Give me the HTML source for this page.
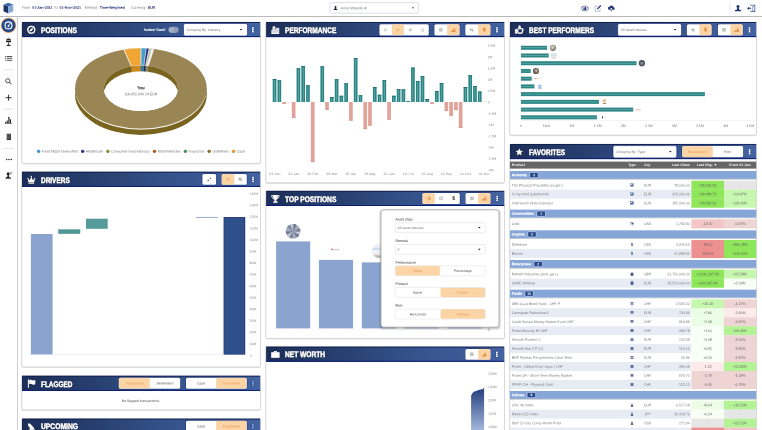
<!DOCTYPE html>
<html lang="en"><head><meta charset="utf-8"><title>Dashboard</title><style>html,body{margin:0;padding:0;background:#fff}
body{width:762px;height:430px;overflow:hidden}
svg#r{display:block;position:absolute;left:0;top:0}
svg#r text{font-family:"Liberation Sans",sans-serif;white-space:pre;text-rendering:geometricPrecision}
</style></head><body>
<svg id="r" width="762" height="430" viewBox="0 0 762 430">
<defs>
<linearGradient id="hg" x1="0" y1="0" x2="1" y2="0"><stop offset="0" stop-color="#1c2e58"/><stop offset=".3" stop-color="#273f6f"/><stop offset=".62" stop-color="#35538b"/><stop offset="1" stop-color="#4363a1"/></linearGradient>
<linearGradient id="nw" gradientUnits="userSpaceOnUse" x1="0" y1="388" x2="0" y2="432"><stop offset="0" stop-color="#233f7d"/><stop offset="1" stop-color="#a9bce0"/></linearGradient>
<linearGradient id="sh" x1="0" y1="0" x2="0" y2="1"><stop offset="0" stop-color="#000" stop-opacity=".3"/><stop offset="1" stop-color="#000" stop-opacity="0"/></linearGradient>
<radialGradient id="rg1" cx=".45" cy=".4" r=".6"><stop offset="0" stop-color="#d9d4c4"/><stop offset=".4" stop-color="#bdb8a8"/><stop offset=".7" stop-color="#8f8d86"/><stop offset="1" stop-color="#5d5b57"/></radialGradient>
<linearGradient id="lg2" x1="0" y1="0" x2="0" y2="1"><stop offset="0" stop-color="#f4f7f9"/><stop offset=".4" stop-color="#cfe0ea"/><stop offset=".7" stop-color="#e9ecee"/><stop offset="1" stop-color="#c9c9c9"/></linearGradient>
<radialGradient id="rg3" cx=".5" cy=".5" r=".55"><stop offset="0" stop-color="#9aa0a8"/><stop offset=".6" stop-color="#555a63"/><stop offset="1" stop-color="#3a3e46"/></radialGradient>
<radialGradient id="rg4" cx=".55" cy=".45" r=".55"><stop offset="0" stop-color="#c9c2b0"/><stop offset=".55" stop-color="#7d7467"/><stop offset="1" stop-color="#4f4a45"/></radialGradient>
<linearGradient id="lg5" x1="0" y1="0" x2="0" y2="1"><stop offset="0" stop-color="#f2f5f8"/><stop offset=".25" stop-color="#e6eff6"/><stop offset=".36" stop-color="#bdd7ea"/><stop offset=".46" stop-color="#f4f4f4"/><stop offset=".72" stop-color="#efefef"/><stop offset=".84" stop-color="#c4c4c4"/><stop offset="1" stop-color="#a8a8a8"/></linearGradient>
<filter id="bl" x="-5%" y="-5%" width="110%" height="115%"><feGaussianBlur stdDeviation=".7"/></filter>
<filter id="bl2" x="-10%" y="-10%" width="120%" height="120%"><feGaussianBlur stdDeviation="1.3"/></filter>
<filter id="ts" x="-5%" y="-30%" width="110%" height="160%"><feDropShadow dx="0" dy="0" stdDeviation=".5" flood-color="#000014" flood-opacity="1"/></filter>
</defs>
<rect x="0.00" y="16.10" width="762.00" height="0.80" fill="#a8a8a8" />
<rect x="17.00" y="16.50" width="0.80" height="414.00" fill="#c4c4c4" />
<svg x="3.3" y="2.8" width="10.2" height="10.8" viewBox="0 0 20 21"><path d="M10 0L20 3.500 10 7 0 3.500Z" fill="#3f68ad"/><path d="M0 3.500L10 7V21L0 16.500Z" fill="#1c3566"/><path d="M20 3.500L10 7V21L20 16.500Z" fill="#86a9dc"/></svg>
<text x="22.10" y="8.82" transform="rotate(.03 22.10 8.82)" font-size="3.6" fill="#777" textLength="8.60" lengthAdjust="spacing" >From:</text>
<text x="32.20" y="8.82" transform="rotate(.03 32.20 8.82)" font-size="3.6" fill="#1d3573" font-weight="bold" textLength="20.40" lengthAdjust="spacing" >01-Jan-2021</text>
<text x="53.80" y="8.82" transform="rotate(.03 53.80 8.82)" font-size="3.6" fill="#777" textLength="4.60" lengthAdjust="spacing" >To:</text>
<text x="59.60" y="8.82" transform="rotate(.03 59.60 8.82)" font-size="3.6" fill="#1d3573" font-weight="bold" textLength="21.30" lengthAdjust="spacing" >01-Nov-2021</text>
<text x="84.70" y="8.82" transform="rotate(.03 84.70 8.82)" font-size="3.6" fill="#777" textLength="13.20" lengthAdjust="spacing" >Method:</text>
<text x="99.70" y="8.82" transform="rotate(.03 99.70 8.82)" font-size="3.6" fill="#1d3573" font-weight="bold" textLength="25.20" lengthAdjust="spacing" >Time-Weighted</text>
<text x="130.90" y="8.82" transform="rotate(.03 130.90 8.82)" font-size="3.6" fill="#777" textLength="15.60" lengthAdjust="spacing" >Currency:</text>
<text x="148.00" y="8.82" transform="rotate(.03 148.00 8.82)" font-size="3.6" fill="#1d3573" font-weight="bold" textLength="7.20" lengthAdjust="spacing" >EUR</text>
<rect x="330.10" y="2.60" width="88.60" height="10.60" rx="1.6" fill="#fff" stroke="#c3cbe0" stroke-width="0.6"/>
<svg x="333.3" y="5.6" width="4.4" height="4.6" viewBox="0 0 24 24"><circle cx="12" cy="6.500" r="5.500" fill="#222"/><path d="M9.500 10h5l1 7c4 .5 7 2 7 4.500V24H1.500v-2.500c0-2.500 3-4 7-4.500z" fill="#222"/></svg>
<text x="340.80" y="9.19" transform="rotate(.03 340.80 9.19)" font-size="3.5" fill="#777" textLength="26.00" lengthAdjust="spacing" >Anna Maeeda ★</text>
<svg x="411.7" y="7.2" width="2.7" height="1.6" viewBox="0 0 10 6"><path d="M0 0H10L5 6Z" fill="#222"/></svg>
<svg x="580.6" y="5.4" width="8.6" height="6" viewBox="0 0 24 16"><path d="M1 8C5 2 9 1 12 1s7 1 11 7c-4 6-8 7-11 7S5 14 1 8z" fill="none" stroke="#1d3573" stroke-width="2"/><circle cx="12" cy="8" r="4.500" fill="#1d3573"/><circle cx="10.500" cy="6.500" r="1.500" fill="#fff"/></svg>
<svg x="594.2" y="4.6" width="7.4" height="7.4" viewBox="0 0 24 24"><path d="M19 13v8.500H2.500V5H11" fill="none" stroke="#7f92bd" stroke-width="2"/><path d="M9 15.500l1-4L20 1.500l3 3L13 14.500z" fill="#1d3573"/></svg>
<svg x="607.5" y="5.2" width="7.6" height="6.2" viewBox="0 0 24 20"><path d="M6 15a5 5 0 0 1 .5-10 7 7 0 0 1 13 1.500A4.300 4.300 0 0 1 18.500 15z" fill="#1d3573"/><path d="M12 8l4.500 5h-3v6h-3v-6h-3z" fill="#fff"/><path d="M10.500 14h3v6h-3z" fill="#1d3573"/></svg>
<rect x="729.60" y="3.10" width="0.70" height="9.50" fill="#ddd" />
<svg x="734.3" y="4.8" width="7.4" height="6.6" viewBox="0 0 24 22"><circle cx="12" cy="5.500" r="5" fill="#1d3573"/><path d="M9.500 9h5l1 6.500c4 .5 7.500 2 7.500 4.500V22H1v-2c0-2.500 3.500-4 7.500-4.500z" fill="#1d3573"/></svg>
<svg x="746.8" y="4.6" width="8.6" height="7.4" viewBox="0 0 26 22"><path d="M12 3V1h13v20H12v-2" fill="none" stroke="#1d3573" stroke-width="2.200"/><path d="M24 2l-6 3v16l6-2z" fill="#fff" stroke="#1d3573" stroke-width="1.500"/><path d="M1 11l6-5v3.500h6v3H7V16z" fill="#1d3573"/></svg>
<circle cx="8.50" cy="25.40" r="7.7" fill="#f0a058" />
<circle cx="8.50" cy="25.40" r="6.9" fill="#274a8c" />
<svg x="4.1" y="21" width="8.8" height="8.8" viewBox="0 0 24 24"><circle cx="12" cy="12" r="9.500" fill="none" stroke="#fff" stroke-width="3.200"/><circle cx="12" cy="13.500" r="2.600" fill="#fff"/><path d="M12 13l4-7" stroke="#fff" stroke-width="2.400"/></svg>
<svg x="5.6" y="37.3" width="6" height="9" viewBox="0 0 16 24"><path d="M7 0h2l.5 3H6.500z" fill="#999"/><path d="M3 4h10l2 9H1z" fill="#222"/><path d="M3 7h10v2H3z" fill="#fff" opacity=".7"/><path d="M7 13h2v7H7z" fill="#222"/><path d="M3.500 20h9l1 3h-11z" fill="#222"/></svg>
<svg x="4.9" y="56.1" width="7.6" height="5.2" viewBox="0 0 22 15"><path d="M0 0h3v3H0zM5 0h17v3H5zM0 6h3v3H0zM5 6h17v3H5zM0 12h3v3H0zM5 12h17v3H5z" fill="#555"/></svg>
<rect x="3.50" y="69.60" width="10.20" height="0.70" fill="#d8d8d8" />
<svg x="5" y="78.1" width="7.4" height="6.6" viewBox="0 0 24 22"><circle cx="9" cy="9" r="7" fill="none" stroke="#222" stroke-width="2.600"/><path d="M14.500 14l7.500 6.500" stroke="#222" stroke-width="3.200"/></svg>
<rect x="5.60" y="97.25" width="6.00" height="0.90" fill="#222" />
<rect x="8.15" y="94.70" width="0.90" height="6.00" fill="#222" />
<rect x="3.50" y="108.70" width="10.20" height="0.70" fill="#d8d8d8" />
<svg x="4.7" y="116.6" width="7.8" height="7.4" viewBox="0 0 24 23"><path d="M1 17h3.500v4H1zM6 12h3.500v9H6zM11 3h3.500v18H11zM16 8h3.500v13H16z" fill="#222"/><circle cx="12.700" cy="2.500" r="2" fill="#222"/><path d="M0 21.500h23V23H0z" fill="#222"/></svg>
<svg x="6.4" y="133.6" width="4.8" height="6.6" viewBox="0 0 14 20"><rect x="0" y="0" width="14" height="20" rx="2.500" fill="#333"/><path d="M3.500 3v14M7 3v14M10.500 3v14" stroke="#999" stroke-width="1.200"/><path d="M0 2.500h14" stroke="#888" stroke-width="1"/></svg>
<rect x="3.50" y="147.90" width="10.20" height="0.70" fill="#d8d8d8" />
<circle cx="6.70" cy="159.50" r="0.75" fill="#222" />
<circle cx="9.00" cy="159.50" r="0.75" fill="#222" />
<circle cx="11.30" cy="159.50" r="0.75" fill="#222" />
<svg x="5.2" y="171.2" width="7.6" height="8" viewBox="0 0 24 25"><circle cx="9.500" cy="8" r="5" fill="#222"/><path d="M7.500 12h4l.8 6c3 .4 5.700 1.500 5.700 3.500V23H1v-1.500c0-2 2.700-3.100 5.700-3.500z" fill="#222"/><path d="M13 8l6-6.500 3.500 3L16.500 11l-4 1z" fill="#bbb" stroke="#777" stroke-width="1"/><path d="M0 23.500h19V25H0z" fill="#222"/></svg>
<rect x="21.40" y="22.30" width="239.40" height="142.20" rx="2" fill="#000" opacity=".10" filter="url(#bl)"/>
<rect x="21.70" y="22.20" width="238.80" height="141.20" rx="1.6" fill="#fff" stroke="#d0d0d0" stroke-width=".8"/>
<rect x="22.00" y="22.00" width="238.20" height="15.1" fill="url(#hg)"/>
<rect x="22.00" y="22.00" width="238.20" height=".8" fill="#101c48"/>
<rect x="22.00" y="36.10" width="238.20" height="1" fill="#0a1d74"/>
<text x="41.00" y="32.72" transform="rotate(.03 41.00 32.72)" font-size="8.1" fill="#fff" font-weight="bold" textLength="35.80" lengthAdjust="spacingAndGlyphs" stroke="#fff" stroke-width=".28" filter="url(#ts)">POSITIONS</text>
<svg x="26.8" y="25.25" width="9" height="9" viewBox="0 0 24 24" filter="url(#ts)"><circle cx="12" cy="12" r="9.2" fill="none" stroke="#fff" stroke-width="3.400"/><path d="M17.500 6.500L14 14L6.500 17.500L10 10Z" fill="#fff"/></svg>
<text x="143.90" y="30.89" transform="rotate(.03 143.90 30.89)" font-size="3.5" fill="#fff" textLength="21.60" lengthAdjust="spacing" stroke="#fff" stroke-width=".12">Isolate 'Cash'</text>
<rect x="168.4" y="26.7" width="10.2" height="6.2" rx="3.1" fill="#8f9bb3"/>
<circle cx="171.50" cy="29.80" r="2.6" fill="#a3aec4" />
<rect x="183.50" y="23.50" width="64.00" height="12.50" rx="1.8" fill="#fff" stroke="#13246e" stroke-width="0.6"/>
<text x="186.60" y="30.94" transform="rotate(.03 186.60 30.94)" font-size="3.5" fill="#777" >Grouping By: Industry</text>
<path d="M239.70 29.05h2.6l-1.3 1.5z" fill="#222"/>
<rect x="251.60" y="26.60" width="2.6" height="6.4" rx=".4" fill="#24438a"/>
<rect x="252.05" y="27.10" width="1.7" height="1.6" fill="#fff"/>
<rect x="252.05" y="29.00" width="1.7" height="1.6" fill="#fff"/>
<rect x="252.05" y="30.90" width="1.7" height="1.6" fill="#fff"/>
<g><defs><clipPath id="hole"><ellipse cx="140.9" cy="88.3" rx="37.05" ry="22.8"/></clipPath></defs><ellipse cx="140.9" cy="94.7" rx="65.85" ry="40.2" fill="#78631f"/><rect x="75.05000000000001" y="88.3" width="131.7" height="6.4" fill="#78631f"/><ellipse cx="140.9" cy="89.6" rx="65.75" ry="40.2" fill="#f3efe2"/><ellipse cx="140.9" cy="88.3" rx="65.85" ry="40.2" fill="#9a8555"/><path d="M141.36 48.10A65.85 40.2 0 0 1 146.30 48.24L143.94 65.58A37.05 22.8 0 0 0 141.16 65.50Z" fill="#3f9fd0" stroke="#fff" stroke-width=".45"/><path d="M146.30 48.24A65.85 40.2 0 0 1 149.27 48.43L145.61 65.68A37.05 22.8 0 0 0 143.94 65.58Z" fill="#2a2c85" stroke="#fff" stroke-width=".45"/><path d="M149.27 48.43A65.85 40.2 0 0 1 152.00 48.67L147.14 65.83A37.05 22.8 0 0 0 145.61 65.68Z" fill="#b9c3a2" stroke="#fff" stroke-width=".45"/><path d="M152.00 48.67A65.85 40.2 0 0 1 153.01 48.79L147.72 65.89A37.05 22.8 0 0 0 147.14 65.83Z" fill="#e6e6de" stroke="#fff" stroke-width=".45"/><path d="M153.01 48.79A65.85 40.2 0 0 1 153.80 48.88L148.16 65.94A37.05 22.8 0 0 0 147.72 65.89Z" fill="#d5dccb" stroke="#fff" stroke-width=".45"/><path d="M123.86 49.47A65.85 40.2 0 0 1 140.44 48.10L140.64 65.50A37.05 22.8 0 0 0 131.31 66.28Z" fill="#f0a535" stroke="#fff" stroke-width=".45"/><path d="M153.80 48.88L148.16 65.94" stroke="#fff" stroke-width=".5"/><path d="M123.86 49.47L131.31 66.28" stroke="#fff" stroke-width=".5"/><ellipse cx="140.9" cy="88.3" rx="37.05" ry="22.8" fill="#fff"/><g clip-path="url(#hole)"><rect x="103.85000000000001" y="65.5" width="74.1" height="24.8" fill="#78631f"/><rect x="131.31" y="65.5" width="9.33" height="8.4" fill="#c98a22"/><rect x="141.16" y="65.5" width="2.78" height="8.4" fill="#2f7fae"/><rect x="143.94" y="65.5" width="1.67" height="8.4" fill="#23256e"/><rect x="145.61" y="65.5" width="2.55" height="8.4" fill="#8d8f63"/><ellipse cx="140.9" cy="94.10000000000001" rx="37.05" ry="22.8" fill="#f3efe2"/><ellipse cx="140.9" cy="94.7" rx="37.05" ry="22.8" fill="#fff"/></g></g>
<text x="137.20" y="89.19" transform="rotate(.03 137.20 89.19)" font-size="3.5" fill="#222" stroke="#222" stroke-width=".1">Total</text>
<text x="124.40" y="95.19" transform="rotate(.03 124.40 95.19)" font-size="3.5" fill="#666" textLength="33.00" lengthAdjust="spacing" >119,455,343.14 EUR</text>
<circle cx="38.60" cy="151.30" r="1.6" fill="#2f9bd6" stroke="#000" stroke-opacity=".22" stroke-width=".4"/>
<text x="41.80" y="152.49" transform="rotate(.03 41.80 152.49)" font-size="3.5" fill="#707070" textLength="35.90" lengthAdjust="spacing" >Food Major Diversified</text>
<circle cx="82.70" cy="151.30" r="1.6" fill="#2d2f8c" stroke="#000" stroke-opacity=".22" stroke-width=".4"/>
<text x="85.90" y="152.49" transform="rotate(.03 85.90 152.49)" font-size="3.5" fill="#707070" textLength="17.00" lengthAdjust="spacing" >Healthcare</text>
<circle cx="107.90" cy="151.30" r="1.6" fill="#7f9a3a" stroke="#000" stroke-opacity=".22" stroke-width=".4"/>
<text x="111.10" y="152.49" transform="rotate(.03 111.10 152.49)" font-size="3.5" fill="#707070" textLength="38.40" lengthAdjust="spacing" >Consumer Discretionary</text>
<circle cx="154.50" cy="151.30" r="1.6" fill="#b4581c" stroke="#000" stroke-opacity=".22" stroke-width=".4"/>
<text x="157.70" y="152.49" transform="rotate(.03 157.70 152.49)" font-size="3.5" fill="#707070" textLength="22.70" lengthAdjust="spacing" >MotorVehicles</text>
<circle cx="185.40" cy="151.30" r="1.6" fill="#3f9a4a" stroke="#000" stroke-opacity=".22" stroke-width=".4"/>
<text x="188.60" y="152.49" transform="rotate(.03 188.60 152.49)" font-size="3.5" fill="#707070" textLength="15.60" lengthAdjust="spacing" >Insurance</text>
<circle cx="209.20" cy="151.30" r="1.6" fill="#8a7430" stroke="#000" stroke-opacity=".22" stroke-width=".4"/>
<text x="212.40" y="152.49" transform="rotate(.03 212.40 152.49)" font-size="3.5" fill="#707070" textLength="16.10" lengthAdjust="spacing" >Undefined</text>
<circle cx="233.50" cy="151.30" r="1.6" fill="#f29a1f" stroke="#000" stroke-opacity=".22" stroke-width=".4"/>
<text x="236.70" y="152.49" transform="rotate(.03 236.70 152.49)" font-size="3.5" fill="#707070" textLength="8.10" lengthAdjust="spacing" >Cash</text>
<rect x="265.50" y="22.30" width="239.30" height="161.60" rx="2" fill="#000" opacity=".10" filter="url(#bl)"/>
<rect x="265.80" y="22.20" width="238.70" height="160.60" rx="1.6" fill="#fff" stroke="#d0d0d0" stroke-width=".8"/>
<rect x="266.10" y="22.00" width="238.10" height="15.1" fill="url(#hg)"/>
<rect x="266.10" y="22.00" width="238.10" height=".8" fill="#101c48"/>
<rect x="266.10" y="36.10" width="238.10" height="1" fill="#0a1d74"/>
<text x="285.10" y="32.72" transform="rotate(.03 285.10 32.72)" font-size="8.1" fill="#fff" font-weight="bold" textLength="51.20" lengthAdjust="spacingAndGlyphs" stroke="#fff" stroke-width=".28" filter="url(#ts)">PERFORMANCE</text>
<svg x="270.90000000000003" y="25.25" width="9" height="9" viewBox="0 0 24 24" filter="url(#ts)"><path d="M2.500 21V13h3V4h5.500v7l4 3V8h6v13z" fill="#cfd3dc" stroke="#fff" stroke-width="1.600"/><path d="M1.500 20.500h20.500v2.500H1.500z" fill="#fff"/></svg>
<rect x="379.40" y="24.20" width="49.40" height="11.30" rx="1.5" fill="#fff" stroke="#12226a" stroke-width=".7" paint-order="stroke"/>
<rect x="392.15" y="24.60" width="11.55" height="10.50" rx="1.3" fill="#fbd5a6" stroke="#f7c590" stroke-width=".35"/>
<text x="384.19" y="31.23" transform="rotate(.03 384.19 31.23)" font-size="3.9" fill="#888" >D</text>
<text x="396.11" y="31.23" transform="rotate(.03 396.11 31.23)" font-size="3.9" fill="#e89650" >W</text>
<text x="408.68" y="31.23" transform="rotate(.03 408.68 31.23)" font-size="3.9" fill="#888" >M</text>
<text x="421.13" y="31.23" transform="rotate(.03 421.13 31.23)" font-size="3.9" fill="#888" >Q</text>
<rect x="434.40" y="24.20" width="25.20" height="11.30" rx="1.5" fill="#fff" stroke="#12226a" stroke-width=".7" paint-order="stroke"/>
<rect x="447.40" y="24.60" width="11.80" height="10.50" rx="1.3" fill="#fbd5a6" stroke="#f7c590" stroke-width=".35"/>
<rect x="465.30" y="24.20" width="25.20" height="11.30" rx="1.5" fill="#fff" stroke="#12226a" stroke-width=".7" paint-order="stroke"/>
<rect x="478.30" y="24.60" width="11.80" height="10.50" rx="1.3" fill="#fbd5a6" stroke="#f7c590" stroke-width=".35"/>
<svg x="438.60" y="27.80" width="4.2" height="4.0" viewBox="0 0 24 23"><path d="M2 2h20v19H2zM2 8h20M2 14.500h20M8.700 2v19M15.300 2v19" fill="none" stroke="#8f8f8f" stroke-width="2"/></svg>
<svg x="450.80" y="27.40" width="5.0" height="4.8" viewBox="0 0 24 23"><path d="M0 23V18l6-6 4 3.500 6-15.500 5 10 3 4v9z" fill="#e89650"/></svg>
<text x="469.78" y="31.29" transform="rotate(.03 469.78 31.29)" font-size="4.1" fill="#444" >%</text>
<text x="482.75" y="31.27" transform="rotate(.03 482.75 31.27)" font-size="5.2" fill="#e5853a" font-weight="bold" stroke="#e5853a" stroke-width=".15">$</text>
<rect x="495.70" y="26.60" width="2.6" height="6.4" rx=".4" fill="#24438a"/>
<rect x="496.15" y="27.10" width="1.7" height="1.6" fill="#fff"/>
<rect x="496.15" y="29.00" width="1.7" height="1.6" fill="#fff"/>
<rect x="496.15" y="30.90" width="1.7" height="1.6" fill="#fff"/>
<rect x="272.70" y="79.00" width="3.70" height="23.00" fill="#2b8585" />
<rect x="274.25" y="79.80" width="0.60" height="22.20" fill="#6fb3b1" />
<rect x="272.70" y="79.00" width="3.70" height="0.80" fill="#1f7070" />
<rect x="277.47" y="80.30" width="3.70" height="21.70" fill="#2b8585" />
<rect x="279.02" y="81.10" width="0.60" height="20.90" fill="#6fb3b1" />
<rect x="277.47" y="80.30" width="3.70" height="0.80" fill="#1f7070" />
<rect x="282.24" y="102.00" width="3.70" height="1.70" fill="#e0a39a" />
<rect x="282.24" y="103.20" width="3.70" height="0.50" fill="#d48a80" />
<rect x="287.02" y="101.75" width="3.70" height="0.50" fill="#f0d6d2" />
<rect x="291.79" y="102.00" width="3.70" height="16.00" fill="#e0a39a" />
<rect x="291.79" y="117.50" width="3.70" height="0.50" fill="#d48a80" />
<rect x="296.56" y="68.40" width="3.70" height="33.60" fill="#2b8585" />
<rect x="298.11" y="69.20" width="0.60" height="32.80" fill="#6fb3b1" />
<rect x="296.56" y="68.40" width="3.70" height="0.80" fill="#1f7070" />
<rect x="301.33" y="66.00" width="3.70" height="36.00" fill="#2b8585" />
<rect x="302.88" y="66.80" width="0.60" height="35.20" fill="#6fb3b1" />
<rect x="301.33" y="66.00" width="3.70" height="0.80" fill="#1f7070" />
<rect x="306.10" y="85.40" width="3.70" height="16.60" fill="#2b8585" />
<rect x="307.65" y="86.20" width="0.60" height="15.80" fill="#6fb3b1" />
<rect x="306.10" y="85.40" width="3.70" height="0.80" fill="#1f7070" />
<rect x="310.88" y="102.00" width="3.70" height="60.10" fill="#e0a39a" />
<rect x="310.88" y="161.60" width="3.70" height="0.50" fill="#d48a80" />
<rect x="315.65" y="101.75" width="3.70" height="0.50" fill="#f0d6d2" />
<rect x="320.42" y="66.40" width="3.70" height="35.60" fill="#2b8585" />
<rect x="321.97" y="67.20" width="0.60" height="34.80" fill="#6fb3b1" />
<rect x="320.42" y="66.40" width="3.70" height="0.80" fill="#1f7070" />
<rect x="325.19" y="102.00" width="3.70" height="7.90" fill="#e0a39a" />
<rect x="325.19" y="109.40" width="3.70" height="0.50" fill="#d48a80" />
<rect x="329.96" y="97.10" width="3.70" height="4.90" fill="#2b8585" />
<rect x="331.51" y="97.90" width="0.60" height="4.10" fill="#6fb3b1" />
<rect x="329.96" y="97.10" width="3.70" height="0.80" fill="#1f7070" />
<rect x="334.74" y="79.30" width="3.70" height="22.70" fill="#2b8585" />
<rect x="336.29" y="80.10" width="0.60" height="21.90" fill="#6fb3b1" />
<rect x="334.74" y="79.30" width="3.70" height="0.80" fill="#1f7070" />
<rect x="339.51" y="95.80" width="3.70" height="6.20" fill="#2b8585" />
<rect x="341.06" y="96.60" width="0.60" height="5.40" fill="#6fb3b1" />
<rect x="339.51" y="95.80" width="3.70" height="0.80" fill="#1f7070" />
<rect x="344.28" y="83.40" width="3.70" height="18.60" fill="#2b8585" />
<rect x="345.83" y="84.20" width="0.60" height="17.80" fill="#6fb3b1" />
<rect x="344.28" y="83.40" width="3.70" height="0.80" fill="#1f7070" />
<rect x="349.05" y="102.00" width="3.70" height="18.50" fill="#e0a39a" />
<rect x="349.05" y="120.00" width="3.70" height="0.50" fill="#d48a80" />
<rect x="353.82" y="58.00" width="3.70" height="44.00" fill="#2b8585" />
<rect x="355.37" y="58.80" width="0.60" height="43.20" fill="#6fb3b1" />
<rect x="353.82" y="58.00" width="3.70" height="0.80" fill="#1f7070" />
<rect x="358.60" y="95.30" width="3.70" height="6.70" fill="#2b8585" />
<rect x="360.15" y="96.10" width="0.60" height="5.90" fill="#6fb3b1" />
<rect x="358.60" y="95.30" width="3.70" height="0.80" fill="#1f7070" />
<rect x="363.37" y="102.00" width="3.70" height="26.90" fill="#e0a39a" />
<rect x="363.37" y="128.40" width="3.70" height="0.50" fill="#d48a80" />
<rect x="368.14" y="102.00" width="3.70" height="23.50" fill="#e0a39a" />
<rect x="368.14" y="125.00" width="3.70" height="0.50" fill="#d48a80" />
<rect x="372.91" y="87.00" width="3.70" height="15.00" fill="#2b8585" />
<rect x="374.46" y="87.80" width="0.60" height="14.20" fill="#6fb3b1" />
<rect x="372.91" y="87.00" width="3.70" height="0.80" fill="#1f7070" />
<rect x="377.68" y="94.80" width="3.70" height="7.20" fill="#2b8585" />
<rect x="379.23" y="95.60" width="0.60" height="6.40" fill="#6fb3b1" />
<rect x="377.68" y="94.80" width="3.70" height="0.80" fill="#1f7070" />
<rect x="382.46" y="80.30" width="3.70" height="21.70" fill="#2b8585" />
<rect x="384.01" y="81.10" width="0.60" height="20.90" fill="#6fb3b1" />
<rect x="382.46" y="80.30" width="3.70" height="0.80" fill="#1f7070" />
<rect x="387.23" y="102.00" width="3.70" height="17.60" fill="#e0a39a" />
<rect x="387.23" y="119.10" width="3.70" height="0.50" fill="#d48a80" />
<rect x="392.00" y="95.80" width="3.70" height="6.20" fill="#2b8585" />
<rect x="393.55" y="96.60" width="0.60" height="5.40" fill="#6fb3b1" />
<rect x="392.00" y="95.80" width="3.70" height="0.80" fill="#1f7070" />
<rect x="396.77" y="89.10" width="3.70" height="12.90" fill="#2b8585" />
<rect x="398.32" y="89.90" width="0.60" height="12.10" fill="#6fb3b1" />
<rect x="396.77" y="89.10" width="3.70" height="0.80" fill="#1f7070" />
<rect x="401.54" y="89.40" width="3.70" height="12.60" fill="#2b8585" />
<rect x="403.09" y="90.20" width="0.60" height="11.80" fill="#6fb3b1" />
<rect x="401.54" y="89.40" width="3.70" height="0.80" fill="#1f7070" />
<rect x="406.32" y="101.30" width="3.70" height="0.70" fill="#2b8585" />
<rect x="407.87" y="102.10" width="0.60" height="0.00" fill="#6fb3b1" />
<rect x="406.32" y="101.30" width="3.70" height="0.70" fill="#1f7070" />
<rect x="411.09" y="67.60" width="3.70" height="34.40" fill="#2b8585" />
<rect x="412.64" y="68.40" width="0.60" height="33.60" fill="#6fb3b1" />
<rect x="411.09" y="67.60" width="3.70" height="0.80" fill="#1f7070" />
<rect x="415.86" y="81.00" width="3.70" height="21.00" fill="#2b8585" />
<rect x="417.41" y="81.80" width="0.60" height="20.20" fill="#6fb3b1" />
<rect x="415.86" y="81.00" width="3.70" height="0.80" fill="#1f7070" />
<rect x="420.63" y="76.10" width="3.70" height="25.90" fill="#2b8585" />
<rect x="422.18" y="76.90" width="0.60" height="25.10" fill="#6fb3b1" />
<rect x="420.63" y="76.10" width="3.70" height="0.80" fill="#1f7070" />
<rect x="425.40" y="99.10" width="3.70" height="2.90" fill="#2b8585" />
<rect x="426.95" y="99.90" width="0.60" height="2.10" fill="#6fb3b1" />
<rect x="425.40" y="99.10" width="3.70" height="0.80" fill="#1f7070" />
<rect x="430.18" y="102.00" width="3.70" height="1.70" fill="#e0a39a" />
<rect x="430.18" y="103.20" width="3.70" height="0.50" fill="#d48a80" />
<rect x="434.95" y="91.10" width="3.70" height="10.90" fill="#2b8585" />
<rect x="436.50" y="91.90" width="0.60" height="10.10" fill="#6fb3b1" />
<rect x="434.95" y="91.10" width="3.70" height="0.80" fill="#1f7070" />
<rect x="439.72" y="83.20" width="3.70" height="18.80" fill="#2b8585" />
<rect x="441.27" y="84.00" width="0.60" height="18.00" fill="#6fb3b1" />
<rect x="439.72" y="83.20" width="3.70" height="0.80" fill="#1f7070" />
<rect x="444.49" y="102.00" width="3.70" height="8.90" fill="#e0a39a" />
<rect x="444.49" y="110.40" width="3.70" height="0.50" fill="#d48a80" />
<rect x="449.26" y="102.00" width="3.70" height="13.80" fill="#e0a39a" />
<rect x="449.26" y="115.30" width="3.70" height="0.50" fill="#d48a80" />
<rect x="454.04" y="102.00" width="3.70" height="8.00" fill="#e0a39a" />
<rect x="454.04" y="109.50" width="3.70" height="0.50" fill="#d48a80" />
<rect x="458.81" y="102.00" width="3.70" height="26.00" fill="#e0a39a" />
<rect x="458.81" y="127.50" width="3.70" height="0.50" fill="#d48a80" />
<rect x="463.58" y="87.00" width="3.70" height="15.00" fill="#2b8585" />
<rect x="465.13" y="87.80" width="0.60" height="14.20" fill="#6fb3b1" />
<rect x="463.58" y="87.00" width="3.70" height="0.80" fill="#1f7070" />
<rect x="468.35" y="75.30" width="3.70" height="26.70" fill="#2b8585" />
<rect x="469.90" y="76.10" width="0.60" height="25.90" fill="#6fb3b1" />
<rect x="468.35" y="75.30" width="3.70" height="0.80" fill="#1f7070" />
<rect x="473.12" y="86.20" width="3.70" height="15.80" fill="#2b8585" />
<rect x="474.67" y="87.00" width="0.60" height="15.00" fill="#6fb3b1" />
<rect x="473.12" y="86.20" width="3.70" height="0.80" fill="#1f7070" />
<rect x="477.90" y="91.60" width="3.70" height="10.40" fill="#2b8585" />
<rect x="479.45" y="92.40" width="0.60" height="9.60" fill="#6fb3b1" />
<rect x="477.90" y="91.60" width="3.70" height="0.80" fill="#1f7070" />
<rect x="482.67" y="101.75" width="3.70" height="0.50" fill="#f0d6d2" />
<text x="487.70" y="46.86" transform="rotate(.03 487.70 46.86)" font-size="3.4" fill="#888" >2.5M</text>
<text x="487.70" y="58.16" transform="rotate(.03 487.70 58.16)" font-size="3.4" fill="#888" >2M</text>
<text x="487.70" y="69.46" transform="rotate(.03 487.70 69.46)" font-size="3.4" fill="#888" >1.5M</text>
<text x="487.70" y="80.76" transform="rotate(.03 487.70 80.76)" font-size="3.4" fill="#888" >1M</text>
<text x="487.70" y="92.06" transform="rotate(.03 487.70 92.06)" font-size="3.4" fill="#888" >0.5M</text>
<text x="487.70" y="103.36" transform="rotate(.03 487.70 103.36)" font-size="3.4" fill="#888" >0</text>
<text x="487.70" y="114.66" transform="rotate(.03 487.70 114.66)" font-size="3.4" fill="#888" >-0.5M</text>
<text x="487.70" y="125.96" transform="rotate(.03 487.70 125.96)" font-size="3.4" fill="#888" >-1M</text>
<text x="487.70" y="137.26" transform="rotate(.03 487.70 137.26)" font-size="3.4" fill="#888" >-1.5M</text>
<text x="487.70" y="148.56" transform="rotate(.03 487.70 148.56)" font-size="3.4" fill="#888" >-2M</text>
<text x="487.70" y="159.86" transform="rotate(.03 487.70 159.86)" font-size="3.4" fill="#888" >-2.5M</text>
<text x="487.70" y="171.16" transform="rotate(.03 487.70 171.16)" font-size="3.4" fill="#888" >-3M</text>
<text x="269.20" y="174.96" transform="rotate(.03 269.20 174.96)" font-size="3.4" fill="#888" textLength="11.20" lengthAdjust="spacing" >03-Jan</text>
<text x="288.25" y="174.96" transform="rotate(.03 288.25 174.96)" font-size="3.4" fill="#888" textLength="11.20" lengthAdjust="spacing" >31-Jan</text>
<text x="307.30" y="174.96" transform="rotate(.03 307.30 174.96)" font-size="3.4" fill="#888" textLength="11.20" lengthAdjust="spacing" >28-Feb</text>
<text x="326.35" y="174.96" transform="rotate(.03 326.35 174.96)" font-size="3.4" fill="#888" textLength="11.20" lengthAdjust="spacing" >28-Mar</text>
<text x="345.40" y="174.96" transform="rotate(.03 345.40 174.96)" font-size="3.4" fill="#888" textLength="11.20" lengthAdjust="spacing" >25-Apr</text>
<text x="364.45" y="174.96" transform="rotate(.03 364.45 174.96)" font-size="3.4" fill="#888" textLength="11.20" lengthAdjust="spacing" >23-May</text>
<text x="383.50" y="174.96" transform="rotate(.03 383.50 174.96)" font-size="3.4" fill="#888" textLength="11.20" lengthAdjust="spacing" >20-Jun</text>
<text x="402.55" y="174.96" transform="rotate(.03 402.55 174.96)" font-size="3.4" fill="#888" textLength="11.20" lengthAdjust="spacing" >18-Jul</text>
<text x="421.60" y="174.96" transform="rotate(.03 421.60 174.96)" font-size="3.4" fill="#888" textLength="11.20" lengthAdjust="spacing" >15-Aug</text>
<text x="440.65" y="174.96" transform="rotate(.03 440.65 174.96)" font-size="3.4" fill="#888" textLength="11.20" lengthAdjust="spacing" >12-Sep</text>
<text x="459.70" y="174.96" transform="rotate(.03 459.70 174.96)" font-size="3.4" fill="#888" textLength="11.20" lengthAdjust="spacing" >10-Oct</text>
<text x="478.75" y="174.96" transform="rotate(.03 478.75 174.96)" font-size="3.4" fill="#888" textLength="11.20" lengthAdjust="spacing" >01-Nov</text>
<rect x="509.40" y="22.30" width="247.40" height="113.90" rx="2" fill="#000" opacity=".10" filter="url(#bl)"/>
<rect x="509.70" y="22.20" width="246.80" height="112.90" rx="1.6" fill="#fff" stroke="#d0d0d0" stroke-width=".8"/>
<rect x="510.00" y="22.00" width="246.20" height="15.1" fill="url(#hg)"/>
<rect x="510.00" y="22.00" width="246.20" height=".8" fill="#101c48"/>
<rect x="510.00" y="36.10" width="246.20" height="1" fill="#0a1d74"/>
<text x="529.00" y="32.72" transform="rotate(.03 529.00 32.72)" font-size="8.1" fill="#fff" font-weight="bold" textLength="65.10" lengthAdjust="spacingAndGlyphs" stroke="#fff" stroke-width=".28" filter="url(#ts)">BEST PERFORMERS</text>
<svg x="514.8" y="25.25" width="9" height="9" viewBox="0 0 24 24" filter="url(#ts)"><path d="M1.500 11h4v10.500h-4z" fill="#fff" stroke="#fff" stroke-width="1.500"/><path d="M8 11c2-2 3.500-4.500 3.500-8 0-1.500 3-1.500 3 2 0 1.700-.6 3.500-1 4.500h6.500c2 0 2.500 2.500 1 3.200 1 .8.800 2.500-.5 3 .8.900.400 2.400-.8 2.800.500 1.200-.300 2.500-1.700 2.500H10.500c-1 0-2-.5-2.500-1z" fill="none" stroke="#fff" stroke-width="2.800"/></svg>
<rect x="617.70" y="23.50" width="63.80" height="12.50" rx="1.8" fill="#fff" stroke="#13246e" stroke-width="0.6"/>
<text x="620.80" y="30.94" transform="rotate(.03 620.80 30.94)" font-size="3.5" fill="#777" >All asset classes</text>
<path d="M673.70 29.05h2.6l-1.3 1.5z" fill="#222"/>
<rect x="686.80" y="24.20" width="24.80" height="11.30" rx="1.5" fill="#fff" stroke="#12226a" stroke-width=".7" paint-order="stroke"/>
<rect x="699.60" y="24.60" width="11.60" height="10.50" rx="1.3" fill="#fbd5a6" stroke="#f7c590" stroke-width=".35"/>
<text x="691.18" y="31.29" transform="rotate(.03 691.18 31.29)" font-size="4.1" fill="#444" >%</text>
<text x="703.95" y="31.27" transform="rotate(.03 703.95 31.27)" font-size="5.2" fill="#e5853a" font-weight="bold" stroke="#e5853a" stroke-width=".15">$</text>
<rect x="717.90" y="24.20" width="24.90" height="11.30" rx="1.5" fill="#fff" stroke="#12226a" stroke-width=".7" paint-order="stroke"/>
<rect x="730.70" y="24.60" width="11.70" height="10.50" rx="1.3" fill="#fbd5a6" stroke="#f7c590" stroke-width=".35"/>
<svg x="722.00" y="27.80" width="4.2" height="4.0" viewBox="0 0 24 23"><path d="M2 2h20v19H2zM2 8h20M2 14.500h20M8.700 2v19M15.300 2v19" fill="none" stroke="#8f8f8f" stroke-width="2"/></svg>
<svg x="734.10" y="27.40" width="5.0" height="4.8" viewBox="0 0 24 23"><path d="M0 23V18l6-6 4 3.500 6-15.500 5 10 3 4v9z" fill="#e89650"/></svg>
<rect x="748.20" y="26.60" width="2.6" height="6.4" rx=".4" fill="#24438a"/>
<rect x="748.65" y="27.10" width="1.7" height="1.6" fill="#fff"/>
<rect x="748.65" y="29.00" width="1.7" height="1.6" fill="#fff"/>
<rect x="748.65" y="30.90" width="1.7" height="1.6" fill="#fff"/>
<rect x="520.90" y="45.76" width="26.20" height="4.00" fill="#2b8585" />
<rect x="520.90" y="47.46" width="26.20" height="0.60" fill="#6fb3b1" />
<rect x="520.90" y="53.49" width="27.80" height="4.00" fill="#2b8585" />
<rect x="520.90" y="55.19" width="27.80" height="0.60" fill="#6fb3b1" />
<rect x="520.90" y="61.22" width="115.60" height="4.00" fill="#2b8585" />
<rect x="520.90" y="62.92" width="115.60" height="0.60" fill="#6fb3b1" />
<rect x="520.90" y="68.95" width="9.80" height="4.00" fill="#2b8585" />
<rect x="520.90" y="70.65" width="9.80" height="0.60" fill="#6fb3b1" />
<rect x="520.90" y="76.68" width="10.80" height="4.00" fill="#2b8585" />
<rect x="520.90" y="78.38" width="10.80" height="0.60" fill="#6fb3b1" />
<rect x="520.90" y="84.41" width="13.50" height="4.00" fill="#2b8585" />
<rect x="520.90" y="86.11" width="13.50" height="0.60" fill="#6fb3b1" />
<rect x="520.90" y="92.14" width="184.00" height="4.00" fill="#2b8585" />
<rect x="520.90" y="93.84" width="184.00" height="0.60" fill="#6fb3b1" />
<rect x="520.90" y="99.87" width="78.00" height="4.00" fill="#2b8585" />
<rect x="520.90" y="101.57" width="78.00" height="0.60" fill="#6fb3b1" />
<rect x="520.90" y="107.60" width="112.30" height="4.00" fill="#2b8585" />
<rect x="520.90" y="109.30" width="112.30" height="0.60" fill="#6fb3b1" />
<rect x="520.90" y="115.33" width="76.00" height="4.00" fill="#2b8585" />
<rect x="520.90" y="117.03" width="76.00" height="0.60" fill="#6fb3b1" />
<circle cx="552.90" cy="47.80" r="3.1" fill="url(#rg1)" />
<circle cx="553.80" cy="55.50" r="3.1" fill="url(#lg2)" stroke="#ddd" stroke-width=".3"/>
<circle cx="641.90" cy="63.20" r="3.1" fill="url(#rg3)" />
<circle cx="536.00" cy="71.00" r="3.1" fill="url(#rg4)" />
<rect x="534.50" y="78.50" width="2.20" height="0.60" fill="#d8454f" />
<rect x="536.90" y="78.50" width="2.60" height="0.50" fill="#e9b6ba" />
<rect x="537.60" y="84.30" width="4.20" height="3.20" fill="#dfe7f6" />
<rect x="538.20" y="87.60" width="3.20" height="0.80" fill="#3a5ca8" />
<rect x="538.40" y="85.00" width="2.60" height="1.60" fill="#9bb2e0" />
<text x="707.60" y="94.98" transform="rotate(.03 707.60 94.98)" font-size="2.6" fill="#e3b3b8" >fin...</text>
<circle cx="604.30" cy="100.70" r="1.6" fill="#f6c89a" stroke="#eea25a" stroke-width=".4"/>
<rect x="602.80" y="103.00" width="3.40" height="0.70" fill="#6b5a4a" />
<text x="635.20" y="110.45" transform="rotate(.03 635.20 110.45)" font-size="2.8" fill="#e27a7a" >med</text>
<rect x="602.00" y="116.40" width="0.90" height="1.90" fill="#222" />
<rect x="520.90" y="120.60" width="234.00" height="0.40" fill="#e4e4e4" />
<text x="519.93" y="126.99" transform="rotate(.03 519.93 126.99)" font-size="3.5" fill="#777" >0</text>
<text x="542.71" y="126.99" transform="rotate(.03 542.71 126.99)" font-size="3.5" fill="#777" >500k</text>
<text x="569.67" y="126.99" transform="rotate(.03 569.67 126.99)" font-size="3.5" fill="#777" >1M</text>
<text x="593.81" y="126.99" transform="rotate(.03 593.81 126.99)" font-size="3.5" fill="#777" >1.5M</text>
<text x="620.87" y="126.99" transform="rotate(.03 620.87 126.99)" font-size="3.5" fill="#777" >2M</text>
<text x="645.01" y="126.99" transform="rotate(.03 645.01 126.99)" font-size="3.5" fill="#777" >2.5M</text>
<text x="672.07" y="126.99" transform="rotate(.03 672.07 126.99)" font-size="3.5" fill="#777" >3M</text>
<text x="696.21" y="126.99" transform="rotate(.03 696.21 126.99)" font-size="3.5" fill="#777" >3.5M</text>
<text x="723.27" y="126.99" transform="rotate(.03 723.27 126.99)" font-size="3.5" fill="#777" >4M</text>
<text x="746.42" y="126.99" transform="rotate(.03 746.42 126.99)" font-size="3.5" fill="#777" >4.5M</text>
<rect x="509.40" y="144.30" width="247.40" height="300.80" rx="2" fill="#000" opacity=".10" filter="url(#bl)"/>
<rect x="509.70" y="144.20" width="246.80" height="299.80" rx="1.6" fill="#fff" stroke="#d0d0d0" stroke-width=".8"/>
<rect x="510.00" y="144.00" width="246.20" height="15.1" fill="url(#hg)"/>
<rect x="510.00" y="144.00" width="246.20" height=".8" fill="#101c48"/>
<rect x="510.00" y="158.10" width="246.20" height="1" fill="#0a1d74"/>
<text x="529.00" y="154.72" transform="rotate(.03 529.00 154.72)" font-size="8.1" fill="#fff" font-weight="bold" textLength="36.10" lengthAdjust="spacingAndGlyphs" stroke="#fff" stroke-width=".28" filter="url(#ts)">FAVORITES</text>
<svg x="514.8" y="147.25" width="9" height="9" viewBox="0 0 24 24" filter="url(#ts)"><g transform="translate(12 12.500) scale(.86) translate(-12 -12)"><path d="M12 1l3.200 7.400 8 .7-6.100 5.300 1.900 7.900L12 18.100 5 22.300l1.900-7.900L.8 9.100l8-.7z" fill="#fff"/></g></svg>
<rect x="613.00" y="145.60" width="63.80" height="12.30" rx="1.8" fill="#fff" stroke="#13246e" stroke-width="0.6"/>
<text x="616.10" y="152.94" transform="rotate(.03 616.10 152.94)" font-size="3.5" fill="#777" >Grouping By: Type</text>
<path d="M669.00 151.05h2.6l-1.3 1.5z" fill="#222"/>
<rect x="682.20" y="146.10" width="61.00" height="11.20" rx="1.5" fill="#fff" stroke="#12226a" stroke-width=".7" paint-order="stroke"/>
<rect x="682.60" y="146.50" width="30.00" height="10.50" rx="1.3" fill="#fbd5a6" stroke="#f7c590" stroke-width=".35"/>
<text x="687.85" y="152.99" transform="rotate(.03 687.85 152.99)" font-size="3.5" fill="#e89650" textLength="19.50" lengthAdjust="spacing" >Background</text>
<text x="723.70" y="152.99" transform="rotate(.03 723.70 152.99)" font-size="3.5" fill="#666" >Font</text>
<rect x="748.30" y="148.60" width="2.6" height="6.4" rx=".4" fill="#24438a"/>
<rect x="748.75" y="149.10" width="1.7" height="1.6" fill="#fff"/>
<rect x="748.75" y="151.00" width="1.7" height="1.6" fill="#fff"/>
<rect x="748.75" y="152.90" width="1.7" height="1.6" fill="#fff"/>
<rect x="510.00" y="161.60" width="246.20" height="7.00" fill="#666" />
<text x="511.70" y="165.96" transform="rotate(.03 511.70 165.96)" font-size="3.4" fill="#fff" font-weight="bold" textLength="13.20" lengthAdjust="spacing" >Product</text>
<text x="628.20" y="165.96" transform="rotate(.03 628.20 165.96)" font-size="3.4" fill="#fff" font-weight="bold" textLength="7.60" lengthAdjust="spacing" >Type</text>
<text x="644.30" y="165.96" transform="rotate(.03 644.30 165.96)" font-size="3.4" fill="#fff" font-weight="bold" textLength="6.20" lengthAdjust="spacing" >Ccy</text>
<text x="671.90" y="165.96" transform="rotate(.03 671.90 165.96)" font-size="3.4" fill="#fff" font-weight="bold" textLength="17.80" lengthAdjust="spacing" >Last Close</text>
<text x="697.00" y="165.96" transform="rotate(.03 697.00 165.96)" font-size="3.4" fill="#fff" font-weight="bold" textLength="20.00" lengthAdjust="spacing" >Last Chg. ▼</text>
<text x="729.30" y="165.96" transform="rotate(.03 729.30 165.96)" font-size="3.4" fill="#fff" font-weight="bold" textLength="21.40" lengthAdjust="spacing" >From 01-Jan</text>
<rect x="510.00" y="178.90" width="246.20" height="1.30" fill="url(#sh)" />
<rect x="510.00" y="171.00" width="246.20" height="7.90" fill="#86a6d8" />
<text x="511.70" y="176.19" transform="rotate(.03 511.70 176.19)" font-size="3.5" fill="#fff" font-weight="bold" textLength="15.10" lengthAdjust="spacing" stroke="#fff" stroke-width=".12">Artworks</text>
<rect x="529.70" y="172.40" width="8.6" height="5.300" rx=".8" fill="#2b4c8c" stroke="#e8eefb" stroke-width=".55"/>
<text x="533.05" y="176.16" transform="rotate(.03 533.05 176.16)" font-size="3.4" fill="#fff" font-weight="bold" >3</text>
<rect x="691.40" y="180.70" width="32.60" height="9.08" fill="#8ee65a" />
<rect x="723.90" y="180.70" width="32.30" height="9.08" fill="#e6e6e6" />
<text x="511.70" y="186.39" transform="rotate(.03 511.70 186.39)" font-size="3.5" fill="#777" textLength="50.90" lengthAdjust="spacing" >The Physical Possibility (sculpt.)</text>
<svg x="630.10" y="183.20" width="3.8" height="3.8" viewBox="0 0 24 24"><rect x="1" y="1" width="22" height="20" fill="#dfe6f3" stroke="#1f3878" stroke-width="2.500"/><path d="M4 18l6-7 4 4 3-3 4 6z" fill="#1f3878"/><circle cx="16" cy="7" r="3" fill="#1f3878"/></svg>
<text x="643.91" y="186.39" transform="rotate(.03 643.91 186.39)" font-size="3.5" fill="#777" >EUR</text>
<text x="674.13" y="186.39" transform="rotate(.03 674.13 186.39)" font-size="3.5" fill="#777" >78,000.00</text>
<text x="698.79" y="186.39" transform="rotate(.03 698.79 186.39)" font-size="3.5" fill="#5a5a5a" >+93,531.35</text>
<text x="739.42" y="186.39" transform="rotate(.03 739.42 186.39)" font-size="3.5" fill="#5a5a5a" >-</text>
<rect x="510.00" y="189.66" width="181.40" height="8.96" fill="#e6ebf4" />
<rect x="691.40" y="189.66" width="32.60" height="9.08" fill="#8ee65a" />
<rect x="723.90" y="189.66" width="32.30" height="9.08" fill="#c6f7af" />
<text x="511.70" y="195.35" transform="rotate(.03 511.70 195.35)" font-size="3.5" fill="#777" textLength="37.20" lengthAdjust="spacing" >In my mind (patchwork)</text>
<svg x="630.10" y="192.16" width="3.8" height="3.8" viewBox="0 0 24 24"><rect x="1" y="1" width="22" height="20" fill="#dfe6f3" stroke="#1f3878" stroke-width="2.500"/><path d="M4 18l6-7 4 4 3-3 4 6z" fill="#1f3878"/><circle cx="16" cy="7" r="3" fill="#1f3878"/></svg>
<text x="643.91" y="195.35" transform="rotate(.03 643.91 195.35)" font-size="3.5" fill="#777" >EUR</text>
<text x="672.18" y="195.35" transform="rotate(.03 672.18 195.35)" font-size="3.5" fill="#777" >325,000.00</text>
<text x="698.79" y="195.35" transform="rotate(.03 698.79 195.35)" font-size="3.5" fill="#5a5a5a" >+83,494.71</text>
<text x="733.04" y="195.35" transform="rotate(.03 733.04 195.35)" font-size="3.5" fill="#5a5a5a" >+14.97%</text>
<rect x="691.40" y="198.62" width="32.60" height="9.08" fill="#8ee65a" />
<rect x="723.90" y="198.62" width="32.30" height="9.08" fill="#c6f7af" />
<text x="511.70" y="204.31" transform="rotate(.03 511.70 204.31)" font-size="3.5" fill="#777" textLength="40.90" lengthAdjust="spacing" >Innervision blues (canvas)</text>
<svg x="630.10" y="201.12" width="3.8" height="3.8" viewBox="0 0 24 24"><rect x="1" y="1" width="22" height="20" fill="#dfe6f3" stroke="#1f3878" stroke-width="2.500"/><path d="M4 18l6-7 4 4 3-3 4 6z" fill="#1f3878"/><circle cx="16" cy="7" r="3" fill="#1f3878"/></svg>
<text x="643.91" y="204.31" transform="rotate(.03 643.91 204.31)" font-size="3.5" fill="#777" >EUR</text>
<text x="672.18" y="204.31" transform="rotate(.03 672.18 204.31)" font-size="3.5" fill="#777" >185,000.00</text>
<text x="698.79" y="204.31" transform="rotate(.03 698.79 204.31)" font-size="3.5" fill="#5a5a5a" >+58,530.31</text>
<text x="733.04" y="204.31" transform="rotate(.03 733.04 204.31)" font-size="3.5" fill="#5a5a5a" >+29.01%</text>
<rect x="510.00" y="217.52" width="246.20" height="1.30" fill="url(#sh)" />
<rect x="510.00" y="209.62" width="246.20" height="7.90" fill="#86a6d8" />
<text x="511.70" y="214.81" transform="rotate(.03 511.70 214.81)" font-size="3.5" fill="#fff" font-weight="bold" textLength="22.30" lengthAdjust="spacing" stroke="#fff" stroke-width=".12">Commodities</text>
<rect x="536.90" y="211.02" width="8.6" height="5.300" rx=".8" fill="#2b4c8c" stroke="#e8eefb" stroke-width=".55"/>
<text x="540.25" y="214.78" transform="rotate(.03 540.25 214.78)" font-size="3.4" fill="#fff" font-weight="bold" >1</text>
<rect x="691.40" y="219.32" width="32.60" height="9.08" fill="#f2c6c6" />
<rect x="723.90" y="219.32" width="32.30" height="9.08" fill="#efd4d4" />
<text x="511.70" y="225.01" transform="rotate(.03 511.70 225.01)" font-size="3.5" fill="#777" textLength="7.60" lengthAdjust="spacing" >Gold</text>
<svg x="630.10" y="221.82" width="3.8" height="3.8" viewBox="0 0 24 24"><path d="M2 2h8v4c0 3-1.500 5-4 5S2 9 2 6zM4.500 11h3v4h2v2h-7v-2h2z" fill="#1f3878"/><path d="M13 5h9v5c0 3-2 6-4.500 6S13 13 13 10zM16 16h3v4h2.500v2.500h-8V20H16z" fill="#1f3878"/></svg>
<text x="643.91" y="225.01" transform="rotate(.03 643.91 225.01)" font-size="3.5" fill="#777" >USD</text>
<text x="676.08" y="225.01" transform="rotate(.03 676.08 225.01)" font-size="3.5" fill="#777" >1,793.90</text>
<text x="702.64" y="225.01" transform="rotate(.03 702.64 225.01)" font-size="3.5" fill="#5a5a5a" >-18.70</text>
<text x="734.46" y="225.01" transform="rotate(.03 734.46 225.01)" font-size="3.5" fill="#5a5a5a" >-5.87%</text>
<rect x="510.00" y="238.22" width="246.20" height="1.30" fill="url(#sh)" />
<rect x="510.00" y="230.32" width="246.20" height="7.90" fill="#86a6d8" />
<text x="511.70" y="235.51" transform="rotate(.03 511.70 235.51)" font-size="3.5" fill="#fff" font-weight="bold" textLength="13.10" lengthAdjust="spacing" stroke="#fff" stroke-width=".12">Cryptos</text>
<rect x="527.70" y="231.72" width="8.6" height="5.300" rx=".8" fill="#2b4c8c" stroke="#e8eefb" stroke-width=".55"/>
<text x="531.05" y="235.48" transform="rotate(.03 531.05 235.48)" font-size="3.4" fill="#fff" font-weight="bold" >2</text>
<rect x="691.40" y="240.02" width="32.60" height="9.08" fill="#ef9090" />
<rect x="723.90" y="240.02" width="32.30" height="9.08" fill="#8ee65a" />
<text x="511.70" y="245.71" transform="rotate(.03 511.70 245.71)" font-size="3.5" fill="#777" textLength="15.20" lengthAdjust="spacing" >Ethereum</text>
<svg x="630.10" y="242.52" width="3.8" height="3.8" viewBox="0 0 24 24"><path d="M10.500 0h3v3c3 .4 5 2.200 5.300 5h-3.500c-.3-1.400-1.500-2.200-3.300-2.200-2 0-3.200.8-3.200 2.200 0 3.400 10.700 1 10.700 8 0 3-2.300 4.800-6 5.200V24h-3v-2.800c-3.700-.4-6-2.400-6.200-5.700h3.600c.3 1.800 1.800 2.800 4.200 2.800 2.300 0 3.600-.8 3.600-2.300 0-3.600-10.600-1-10.600-8C5.100 5.300 7.200 3.500 10.500 3z" fill="#1f3878"/></svg>
<text x="643.91" y="245.71" transform="rotate(.03 643.91 245.71)" font-size="3.5" fill="#777" >USD</text>
<text x="676.08" y="245.71" transform="rotate(.03 676.08 245.71)" font-size="3.5" fill="#777" >4,325.65</text>
<text x="702.64" y="245.71" transform="rotate(.03 702.64 245.71)" font-size="3.5" fill="#5a5a5a" >-89.10</text>
<text x="732.07" y="245.71" transform="rotate(.03 732.07 245.71)" font-size="3.5" fill="#5a5a5a" >+486.29%</text>
<rect x="510.00" y="248.98" width="181.40" height="8.96" fill="#e6ebf4" />
<rect x="691.40" y="248.98" width="32.60" height="9.08" fill="#ef9090" />
<rect x="723.90" y="248.98" width="32.30" height="9.08" fill="#8ee65a" />
<text x="511.70" y="254.67" transform="rotate(.03 511.70 254.67)" font-size="3.5" fill="#777" textLength="11.00" lengthAdjust="spacing" >Bitcoin</text>
<svg x="630.10" y="251.48" width="3.8" height="3.8" viewBox="0 0 24 24"><path d="M10.500 0h3v3c3 .4 5 2.200 5.300 5h-3.500c-.3-1.400-1.500-2.200-3.300-2.200-2 0-3.200.8-3.200 2.200 0 3.400 10.700 1 10.700 8 0 3-2.300 4.800-6 5.200V24h-3v-2.800c-3.700-.4-6-2.400-6.200-5.700h3.600c.3 1.800 1.800 2.800 4.200 2.800 2.300 0 3.600-.8 3.600-2.300 0-3.600-10.600-1-10.600-8C5.100 5.300 7.200 3.500 10.500 3z" fill="#1f3878"/></svg>
<text x="643.91" y="254.67" transform="rotate(.03 643.91 254.67)" font-size="3.5" fill="#777" >USD</text>
<text x="674.13" y="254.67" transform="rotate(.03 674.13 254.67)" font-size="3.5" fill="#777" >61,888.83</text>
<text x="701.67" y="254.67" transform="rotate(.03 701.67 254.67)" font-size="3.5" fill="#5a5a5a" >-339.13</text>
<text x="732.20" y="254.67" transform="rotate(.03 732.20 254.67)" font-size="3.5" fill="#5a5a5a" >+113.40%</text>
<rect x="510.00" y="267.88" width="246.20" height="1.30" fill="url(#sh)" />
<rect x="510.00" y="259.98" width="246.20" height="7.90" fill="#86a6d8" />
<text x="511.70" y="265.17" transform="rotate(.03 511.70 265.17)" font-size="3.5" fill="#fff" font-weight="bold" textLength="19.30" lengthAdjust="spacing" stroke="#fff" stroke-width=".12">Enterprises</text>
<rect x="533.90" y="261.38" width="8.6" height="5.300" rx=".8" fill="#2b4c8c" stroke="#e8eefb" stroke-width=".55"/>
<text x="537.25" y="265.14" transform="rotate(.03 537.25 265.14)" font-size="3.4" fill="#fff" font-weight="bold" >2</text>
<rect x="691.40" y="269.68" width="32.60" height="9.08" fill="#8ee65a" />
<rect x="723.90" y="269.68" width="32.30" height="9.08" fill="#c6f7af" />
<text x="511.70" y="275.37" transform="rotate(.03 511.70 275.37)" font-size="3.5" fill="#777" textLength="46.20" lengthAdjust="spacing" >Montell Industries (35% part.)</text>
<svg x="630.10" y="272.18" width="3.8" height="3.8" viewBox="0 0 24 24"><path d="M3 5c0-5 18-5 18 0v14c0 5-18 5-18 0z" fill="#1f3878"/><path d="M3 6.500c2 3.500 16 3.500 18 0" fill="none" stroke="#fff" stroke-width="1.600"/><path d="M3 13c2 3.500 16 3.500 18 0" fill="none" stroke="#fff" stroke-width="1.300"/></svg>
<text x="643.90" y="275.37" transform="rotate(.03 643.90 275.37)" font-size="3.5" fill="#777" >GBP</text>
<text x="667.32" y="275.37" transform="rotate(.03 667.32 275.37)" font-size="3.5" fill="#777" >21,750,000.00</text>
<text x="696.36" y="275.37" transform="rotate(.03 696.36 275.37)" font-size="3.5" fill="#5a5a5a" >+1,036,237.93</text>
<text x="733.04" y="275.37" transform="rotate(.03 733.04 275.37)" font-size="3.5" fill="#5a5a5a" >+15.58%</text>
<rect x="510.00" y="278.64" width="181.40" height="8.96" fill="#e6ebf4" />
<rect x="691.40" y="278.64" width="32.60" height="9.08" fill="#8ee65a" />
<rect x="723.90" y="278.64" width="32.30" height="9.08" fill="#f8fff5" />
<text x="511.70" y="284.33" transform="rotate(.03 511.70 284.33)" font-size="3.5" fill="#777" textLength="23.00" lengthAdjust="spacing" >LWAE Holding</text>
<svg x="630.10" y="281.14" width="3.8" height="3.8" viewBox="0 0 24 24"><path d="M3 5c0-5 18-5 18 0v14c0 5-18 5-18 0z" fill="#1f3878"/><path d="M3 6.500c2 3.500 16 3.500 18 0" fill="none" stroke="#fff" stroke-width="1.600"/><path d="M3 13c2 3.500 16 3.500 18 0" fill="none" stroke="#fff" stroke-width="1.300"/></svg>
<text x="643.91" y="284.33" transform="rotate(.03 643.91 284.33)" font-size="3.5" fill="#777" >EUR</text>
<text x="667.32" y="284.33" transform="rotate(.03 667.32 284.33)" font-size="3.5" fill="#777" >19,550,000.00</text>
<text x="697.82" y="284.33" transform="rotate(.03 697.82 284.33)" font-size="3.5" fill="#5a5a5a" >+630,325.49</text>
<text x="734.02" y="284.33" transform="rotate(.03 734.02 284.33)" font-size="3.5" fill="#5a5a5a" >+2.03%</text>
<rect x="510.00" y="297.54" width="246.20" height="1.30" fill="url(#sh)" />
<rect x="510.00" y="289.64" width="246.20" height="7.90" fill="#86a6d8" />
<text x="511.70" y="294.83" transform="rotate(.03 511.70 294.83)" font-size="3.5" fill="#fff" font-weight="bold" textLength="10.20" lengthAdjust="spacing" stroke="#fff" stroke-width=".12">Funds</text>
<rect x="524.80" y="291.04" width="8.6" height="5.300" rx=".8" fill="#2b4c8c" stroke="#e8eefb" stroke-width=".55"/>
<text x="527.21" y="294.80" transform="rotate(.03 527.21 294.80)" font-size="3.4" fill="#fff" font-weight="bold" >10</text>
<rect x="691.40" y="299.34" width="32.60" height="9.08" fill="#c6f7af" />
<rect x="723.90" y="299.34" width="32.30" height="9.08" fill="#efd4d4" />
<text x="511.70" y="305.03" transform="rotate(.03 511.70 305.03)" font-size="3.5" fill="#777" textLength="48.30" lengthAdjust="spacing" >UBS (Lux) Bond Fund - CHF P</text>
<svg x="630.10" y="301.84" width="3.8" height="3.8" viewBox="0 0 24 24"><path d="M2 3h20v4.500H2zM2 9.800h20v4.500H2zM2 16.600h20V21H2z" fill="#3b4f80"/></svg>
<text x="644.00" y="305.03" transform="rotate(.03 644.00 305.03)" font-size="3.5" fill="#777" >CHF</text>
<text x="676.08" y="305.03" transform="rotate(.03 676.08 305.03)" font-size="3.5" fill="#777" >2,595.52</text>
<text x="702.20" y="305.03" transform="rotate(.03 702.20 305.03)" font-size="3.5" fill="#5a5a5a" >+15.18</text>
<text x="734.46" y="305.03" transform="rotate(.03 734.46 305.03)" font-size="3.5" fill="#5a5a5a" >-4.17%</text>
<rect x="510.00" y="308.30" width="181.40" height="8.96" fill="#e6ebf4" />
<rect x="691.40" y="308.30" width="32.60" height="9.08" fill="#ecfde5" />
<rect x="723.90" y="308.30" width="32.30" height="9.08" fill="#fdeaea" />
<text x="511.70" y="313.99" transform="rotate(.03 511.70 313.99)" font-size="3.5" fill="#777" textLength="37.00" lengthAdjust="spacing" >Carmignac Patrimoine A</text>
<svg x="630.10" y="310.80" width="3.8" height="3.8" viewBox="0 0 24 24"><path d="M2 3h20v4.500H2zM2 9.800h20v4.500H2zM2 16.600h20V21H2z" fill="#3b4f80"/></svg>
<text x="643.91" y="313.99" transform="rotate(.03 643.91 313.99)" font-size="3.5" fill="#777" >EUR</text>
<text x="679.00" y="313.99" transform="rotate(.03 679.00 313.99)" font-size="3.5" fill="#777" >731.86</text>
<text x="703.17" y="313.99" transform="rotate(.03 703.17 313.99)" font-size="3.5" fill="#5a5a5a" >+7.86</text>
<text x="734.46" y="313.99" transform="rotate(.03 734.46 313.99)" font-size="3.5" fill="#5a5a5a" >-2.30%</text>
<rect x="691.40" y="317.26" width="32.60" height="9.08" fill="#ecfde5" />
<rect x="723.90" y="317.26" width="32.30" height="9.08" fill="#efd4d4" />
<text x="511.70" y="322.95" transform="rotate(.03 511.70 322.95)" font-size="3.5" fill="#777" textLength="62.00" lengthAdjust="spacing" >Credit Suisse Money Market Fund CHF</text>
<svg x="630.10" y="319.76" width="3.8" height="3.8" viewBox="0 0 24 24"><path d="M2 3h20v4.500H2zM2 9.800h20v4.500H2zM2 16.600h20V21H2z" fill="#3b4f80"/></svg>
<text x="644.00" y="322.95" transform="rotate(.03 644.00 322.95)" font-size="3.5" fill="#777" >CHF</text>
<text x="679.00" y="322.95" transform="rotate(.03 679.00 322.95)" font-size="3.5" fill="#777" >954.88</text>
<text x="703.17" y="322.95" transform="rotate(.03 703.17 322.95)" font-size="3.5" fill="#5a5a5a" >+7.28</text>
<text x="734.46" y="322.95" transform="rotate(.03 734.46 322.95)" font-size="3.5" fill="#5a5a5a" >-3.87%</text>
<rect x="510.00" y="326.22" width="181.40" height="8.96" fill="#e6ebf4" />
<rect x="691.40" y="326.22" width="32.60" height="9.08" fill="#f8fff5" />
<rect x="723.90" y="326.22" width="32.30" height="9.08" fill="#b4f296" />
<text x="511.70" y="331.91" transform="rotate(.03 511.70 331.91)" font-size="3.5" fill="#777" textLength="36.00" lengthAdjust="spacing" >Pictet-Security HI CHF</text>
<svg x="630.10" y="328.72" width="3.8" height="3.8" viewBox="0 0 24 24"><path d="M2 3h20v4.500H2zM2 9.800h20v4.500H2zM2 16.600h20V21H2z" fill="#3b4f80"/></svg>
<text x="644.00" y="331.91" transform="rotate(.03 644.00 331.91)" font-size="3.5" fill="#777" >CHF</text>
<text x="679.00" y="331.91" transform="rotate(.03 679.00 331.91)" font-size="3.5" fill="#777" >389.79</text>
<text x="703.17" y="331.91" transform="rotate(.03 703.17 331.91)" font-size="3.5" fill="#5a5a5a" >+1.61</text>
<text x="733.04" y="331.91" transform="rotate(.03 733.04 331.91)" font-size="3.5" fill="#5a5a5a" >+15.05%</text>
<rect x="691.40" y="335.18" width="32.60" height="9.08" fill="#f8fff5" />
<rect x="723.90" y="335.18" width="32.30" height="9.08" fill="#efd4d4" />
<text x="511.70" y="340.87" transform="rotate(.03 511.70 340.87)" font-size="3.5" fill="#777" textLength="29.00" lengthAdjust="spacing" >Amundi Prudent C</text>
<svg x="630.10" y="337.68" width="3.8" height="3.8" viewBox="0 0 24 24"><path d="M2 3h20v4.500H2zM2 9.800h20v4.500H2zM2 16.600h20V21H2z" fill="#3b4f80"/></svg>
<text x="643.91" y="340.87" transform="rotate(.03 643.91 340.87)" font-size="3.5" fill="#777" >EUR</text>
<text x="679.00" y="340.87" transform="rotate(.03 679.00 340.87)" font-size="3.5" fill="#777" >123.39</text>
<text x="703.17" y="340.87" transform="rotate(.03 703.17 340.87)" font-size="3.5" fill="#5a5a5a" >+1.08</text>
<text x="734.46" y="340.87" transform="rotate(.03 734.46 340.87)" font-size="3.5" fill="#5a5a5a" >-3.06%</text>
<rect x="510.00" y="344.14" width="181.40" height="8.96" fill="#e6ebf4" />
<rect x="691.40" y="344.14" width="32.60" height="9.08" fill="#f8fff5" />
<rect x="723.90" y="344.14" width="32.30" height="9.08" fill="#efd4d4" />
<text x="511.70" y="349.83" transform="rotate(.03 511.70 349.83)" font-size="3.5" fill="#777" textLength="31.50" lengthAdjust="spacing" >Amundi Star 2 P (C)</text>
<svg x="630.10" y="346.64" width="3.8" height="3.8" viewBox="0 0 24 24"><path d="M2 3h20v4.500H2zM2 9.800h20v4.500H2zM2 16.600h20V21H2z" fill="#3b4f80"/></svg>
<text x="643.91" y="349.83" transform="rotate(.03 643.91 349.83)" font-size="3.5" fill="#777" >EUR</text>
<text x="679.00" y="349.83" transform="rotate(.03 679.00 349.83)" font-size="3.5" fill="#777" >101.16</text>
<text x="703.17" y="349.83" transform="rotate(.03 703.17 349.83)" font-size="3.5" fill="#5a5a5a" >+0.91</text>
<text x="734.46" y="349.83" transform="rotate(.03 734.46 349.83)" font-size="3.5" fill="#5a5a5a" >-3.85%</text>
<rect x="691.40" y="353.10" width="32.60" height="9.08" fill="#f8fff5" />
<rect x="723.90" y="353.10" width="32.30" height="9.08" fill="#efd4d4" />
<text x="511.70" y="358.79" transform="rotate(.03 511.70 358.79)" font-size="3.5" fill="#777" textLength="60.50" lengthAdjust="spacing" >BNP Paribas Perspectives Court Term</text>
<svg x="630.10" y="355.60" width="3.8" height="3.8" viewBox="0 0 24 24"><path d="M2 3h20v4.500H2zM2 9.800h20v4.500H2zM2 16.600h20V21H2z" fill="#3b4f80"/></svg>
<text x="643.91" y="358.79" transform="rotate(.03 643.91 358.79)" font-size="3.5" fill="#777" >EUR</text>
<text x="680.94" y="358.79" transform="rotate(.03 680.94 358.79)" font-size="3.5" fill="#777" >26.96</text>
<text x="703.17" y="358.79" transform="rotate(.03 703.17 358.79)" font-size="3.5" fill="#5a5a5a" >+0.20</text>
<text x="734.46" y="358.79" transform="rotate(.03 734.46 358.79)" font-size="3.5" fill="#5a5a5a" >-3.42%</text>
<rect x="510.00" y="362.06" width="181.40" height="8.96" fill="#e6ebf4" />
<rect x="691.40" y="362.06" width="32.60" height="9.08" fill="#fdeaea" />
<rect x="723.90" y="362.06" width="32.30" height="9.08" fill="#b4f296" />
<text x="511.70" y="367.75" transform="rotate(.03 511.70 367.75)" font-size="3.5" fill="#777" textLength="51.50" lengthAdjust="spacing" >Pictet - Global Envir Opps I CHF</text>
<svg x="630.10" y="364.56" width="3.8" height="3.8" viewBox="0 0 24 24"><path d="M2 3h20v4.500H2zM2 9.800h20v4.500H2zM2 16.600h20V21H2z" fill="#3b4f80"/></svg>
<text x="644.00" y="367.75" transform="rotate(.03 644.00 367.75)" font-size="3.5" fill="#777" >CHF</text>
<text x="679.00" y="367.75" transform="rotate(.03 679.00 367.75)" font-size="3.5" fill="#777" >390.08</text>
<text x="703.61" y="367.75" transform="rotate(.03 703.61 367.75)" font-size="3.5" fill="#5a5a5a" >-1.32</text>
<text x="733.04" y="367.75" transform="rotate(.03 733.04 367.75)" font-size="3.5" fill="#5a5a5a" >+12.82%</text>
<rect x="691.40" y="371.02" width="32.60" height="9.08" fill="#efd4d4" />
<rect x="723.90" y="371.02" width="32.30" height="9.08" fill="#efd4d4" />
<text x="511.70" y="376.71" transform="rotate(.03 511.70 376.71)" font-size="3.5" fill="#777" textLength="60.00" lengthAdjust="spacing" >Pictet CH - Short-Term Money Market</text>
<svg x="630.10" y="373.52" width="3.8" height="3.8" viewBox="0 0 24 24"><path d="M2 3h20v4.500H2zM2 9.800h20v4.500H2zM2 16.600h20V21H2z" fill="#3b4f80"/></svg>
<text x="644.00" y="376.71" transform="rotate(.03 644.00 376.71)" font-size="3.5" fill="#777" >CHF</text>
<text x="679.00" y="376.71" transform="rotate(.03 679.00 376.71)" font-size="3.5" fill="#777" >876.70</text>
<text x="703.61" y="376.71" transform="rotate(.03 703.61 376.71)" font-size="3.5" fill="#5a5a5a" >-3.79</text>
<text x="734.46" y="376.71" transform="rotate(.03 734.46 376.71)" font-size="3.5" fill="#5a5a5a" >-4.19%</text>
<rect x="510.00" y="379.98" width="181.40" height="8.96" fill="#e6ebf4" />
<rect x="691.40" y="379.98" width="32.60" height="9.08" fill="#efd4d4" />
<rect x="723.90" y="379.98" width="32.30" height="9.08" fill="#efd4d4" />
<text x="511.70" y="385.67" transform="rotate(.03 511.70 385.67)" font-size="3.5" fill="#777" textLength="41.00" lengthAdjust="spacing" >PPMF CH - Physical Gold</text>
<svg x="630.10" y="382.48" width="3.8" height="3.8" viewBox="0 0 24 24"><path d="M2 3h20v4.500H2zM2 9.800h20v4.500H2zM2 16.600h20V21H2z" fill="#3b4f80"/></svg>
<text x="644.00" y="385.67" transform="rotate(.03 644.00 385.67)" font-size="3.5" fill="#777" >CHF</text>
<text x="679.00" y="385.67" transform="rotate(.03 679.00 385.67)" font-size="3.5" fill="#777" >152.12</text>
<text x="703.61" y="385.67" transform="rotate(.03 703.61 385.67)" font-size="3.5" fill="#5a5a5a" >-4.45</text>
<text x="734.46" y="385.67" transform="rotate(.03 734.46 385.67)" font-size="3.5" fill="#5a5a5a" >-6.75%</text>
<rect x="510.00" y="398.88" width="246.20" height="1.30" fill="url(#sh)" />
<rect x="510.00" y="390.98" width="246.20" height="7.90" fill="#86a6d8" />
<text x="511.70" y="396.17" transform="rotate(.03 511.70 396.17)" font-size="3.5" fill="#fff" font-weight="bold" textLength="12.50" lengthAdjust="spacing" stroke="#fff" stroke-width=".12">Indices</text>
<rect x="527.10" y="392.38" width="8.6" height="5.300" rx=".8" fill="#2b4c8c" stroke="#e8eefb" stroke-width=".55"/>
<text x="530.45" y="396.14" transform="rotate(.03 530.45 396.14)" font-size="3.4" fill="#fff" font-weight="bold" >8</text>
<rect x="691.40" y="400.68" width="32.60" height="9.08" fill="#ecfde5" />
<rect x="723.90" y="400.68" width="32.30" height="9.08" fill="#b4f296" />
<text x="511.70" y="406.37" transform="rotate(.03 511.70 406.37)" font-size="3.5" fill="#777" textLength="22.00" lengthAdjust="spacing" >CAC 40 Index</text>
<svg x="630.10" y="403.18" width="3.8" height="3.8" viewBox="0 0 24 24"><path d="M12 1c2.500 0 3.800 2 3 4l-1 2 3 9 3 4v3H4v-3l3-4 3-9-1-2c-.8-2 .5-4 3-4z" fill="#1f3878"/></svg>
<text x="643.91" y="406.37" transform="rotate(.03 643.91 406.37)" font-size="3.5" fill="#777" >EUR</text>
<text x="676.08" y="406.37" transform="rotate(.03 676.08 406.37)" font-size="3.5" fill="#777" >6,517.69</text>
<text x="703.17" y="406.37" transform="rotate(.03 703.17 406.37)" font-size="3.5" fill="#5a5a5a" >+8.64</text>
<text x="733.17" y="406.37" transform="rotate(.03 733.17 406.37)" font-size="3.5" fill="#5a5a5a" >+11.52%</text>
<rect x="510.00" y="409.64" width="181.40" height="8.96" fill="#e6ebf4" />
<rect x="691.40" y="409.64" width="32.60" height="9.08" fill="#f8fff5" />
<rect x="723.90" y="409.64" width="32.30" height="9.08" fill="#e6e6e6" />
<text x="511.70" y="415.33" transform="rotate(.03 511.70 415.33)" font-size="3.5" fill="#777" textLength="26.50" lengthAdjust="spacing" >Nikkei 225 Index</text>
<svg x="630.10" y="412.14" width="3.8" height="3.8" viewBox="0 0 24 24"><path d="M12 1c2.500 0 3.800 2 3 4l-1 2 3 9 3 4v3H4v-3l3-4 3-9-1-2c-.8-2 .5-4 3-4z" fill="#1f3878"/></svg>
<text x="644.39" y="415.33" transform="rotate(.03 644.39 415.33)" font-size="3.5" fill="#777" >JPY</text>
<text x="674.13" y="415.33" transform="rotate(.03 674.13 415.33)" font-size="3.5" fill="#777" >23,418.76</text>
<text x="703.17" y="415.33" transform="rotate(.03 703.17 415.33)" font-size="3.5" fill="#5a5a5a" >+0.24</text>
<text x="739.42" y="415.33" transform="rotate(.03 739.42 415.33)" font-size="3.5" fill="#5a5a5a" >-</text>
<rect x="691.40" y="418.60" width="32.60" height="9.08" fill="#e6e6e6" />
<rect x="723.90" y="418.60" width="32.30" height="9.08" fill="#b4f296" />
<text x="511.70" y="424.29" transform="rotate(.03 511.70 424.29)" font-size="3.5" fill="#777" textLength="49.50" lengthAdjust="spacing" >S&amp;P 20 City Comp Home Price</text>
<svg x="630.10" y="421.10" width="3.8" height="3.8" viewBox="0 0 24 24"><path d="M12 1c2.500 0 3.800 2 3 4l-1 2 3 9 3 4v3H4v-3l3-4 3-9-1-2c-.8-2 .5-4 3-4z" fill="#1f3878"/></svg>
<text x="643.91" y="424.29" transform="rotate(.03 643.91 424.29)" font-size="3.5" fill="#777" >USD</text>
<text x="679.00" y="424.29" transform="rotate(.03 679.00 424.29)" font-size="3.5" fill="#777" >272.34</text>
<text x="707.02" y="424.29" transform="rotate(.03 707.02 424.29)" font-size="3.5" fill="#5a5a5a" >-</text>
<text x="733.04" y="424.29" transform="rotate(.03 733.04 424.29)" font-size="3.5" fill="#5a5a5a" >+15.51%</text>
<rect x="510.00" y="427.56" width="181.40" height="8.96" fill="#e6ebf4" />
<rect x="691.40" y="427.56" width="32.60" height="9.08" fill="#ef9090" />
<rect x="723.90" y="427.56" width="32.30" height="9.08" fill="#f2c6c6" />
<rect x="21.40" y="172.10" width="239.40" height="196.00" rx="2" fill="#000" opacity=".10" filter="url(#bl)"/>
<rect x="21.70" y="172.00" width="238.80" height="195.00" rx="1.6" fill="#fff" stroke="#d0d0d0" stroke-width=".8"/>
<rect x="22.00" y="171.80" width="238.20" height="15.1" fill="url(#hg)"/>
<rect x="22.00" y="171.80" width="238.20" height=".8" fill="#101c48"/>
<rect x="22.00" y="185.90" width="238.20" height="1" fill="#0a1d74"/>
<text x="41.00" y="182.52" transform="rotate(.03 41.00 182.52)" font-size="8.1" fill="#fff" font-weight="bold" textLength="28.70" lengthAdjust="spacingAndGlyphs" stroke="#fff" stroke-width=".28" filter="url(#ts)">DRIVERS</text>
<svg x="26.8" y="175.04999999999998" width="9" height="9" viewBox="0 0 24 24" filter="url(#ts)"><path d="M4.500 19.500l-2-10 5.500 4.500L12 4.500l4 9.500 5.500-4.500-2 10z" fill="#fff"/><circle cx="12" cy="3.800" r="1.700" fill="#fff"/><circle cx="2.600" cy="8.800" r="1.400" fill="#fff"/><circle cx="21.400" cy="8.800" r="1.400" fill="#fff"/><rect x="4.500" y="20.500" width="15" height="2.300" fill="#fff"/></svg>
<rect x="202.40" y="173.90" width="13.70" height="10.90" rx="1.5" fill="#fff" stroke="#12226a" stroke-width=".7" paint-order="stroke"/>
<svg x="207.2" y="177.29999999999998" width="4.2" height="4.2" viewBox="0 0 24 24"><path d="M22 2v8l-3-3-4 4-2-2 4-4-3-3zM2 22v-8l3 3 4-4 2 2-4 4 3 3z" fill="#222"/></svg>
<rect x="221.60" y="173.90" width="25.20" height="10.90" rx="1.5" fill="#fff" stroke="#12226a" stroke-width=".7" paint-order="stroke"/>
<rect x="222.00" y="174.30" width="12.10" height="10.10" rx="1.3" fill="#fbd5a6" stroke="#f7c590" stroke-width=".35"/>
<svg x="225.90" y="177.20" width="4.4" height="4.4" viewBox="0 0 24 24"><circle cx="9.500" cy="9.500" r="7" fill="none" stroke="#e89650" stroke-width="2.400"/><path d="M15 15l7 7" stroke="#e89650" stroke-width="3"/><path d="M6 9.500h7" stroke="#e89650" stroke-width="1.800"/></svg>
<svg x="238.30" y="177.20" width="4.4" height="4.4" viewBox="0 0 24 24"><circle cx="9.500" cy="9.500" r="7" fill="none" stroke="#444" stroke-width="2.400"/><path d="M15 15l7 7" stroke="#444" stroke-width="3"/><path d="M6 9.500h7" stroke="#444" stroke-width="1.800"/></svg>
<rect x="251.70" y="176.20" width="2.6" height="6.4" rx=".4" fill="#24438a"/>
<rect x="252.15" y="176.70" width="1.7" height="1.6" fill="#fff"/>
<rect x="252.15" y="178.60" width="1.7" height="1.6" fill="#fff"/>
<rect x="252.15" y="180.50" width="1.7" height="1.6" fill="#fff"/>
<text x="249.60" y="194.76" transform="rotate(.03 249.60 194.76)" font-size="3.4" fill="#888" >140M</text>
<text x="249.60" y="206.31" transform="rotate(.03 249.60 206.31)" font-size="3.4" fill="#888" >130M</text>
<text x="249.60" y="217.86" transform="rotate(.03 249.60 217.86)" font-size="3.4" fill="#888" >120M</text>
<text x="249.60" y="229.41" transform="rotate(.03 249.60 229.41)" font-size="3.4" fill="#888" >110M</text>
<text x="249.60" y="240.96" transform="rotate(.03 249.60 240.96)" font-size="3.4" fill="#888" >100M</text>
<text x="249.60" y="252.51" transform="rotate(.03 249.60 252.51)" font-size="3.4" fill="#888" >90M</text>
<text x="249.60" y="264.06" transform="rotate(.03 249.60 264.06)" font-size="3.4" fill="#888" >80M</text>
<text x="249.60" y="275.61" transform="rotate(.03 249.60 275.61)" font-size="3.4" fill="#888" >70M</text>
<text x="249.60" y="287.16" transform="rotate(.03 249.60 287.16)" font-size="3.4" fill="#888" >60M</text>
<text x="249.60" y="298.71" transform="rotate(.03 249.60 298.71)" font-size="3.4" fill="#888" >50M</text>
<text x="249.60" y="310.26" transform="rotate(.03 249.60 310.26)" font-size="3.4" fill="#888" >40M</text>
<text x="249.60" y="321.81" transform="rotate(.03 249.60 321.81)" font-size="3.4" fill="#888" >30M</text>
<text x="249.60" y="333.36" transform="rotate(.03 249.60 333.36)" font-size="3.4" fill="#888" >20M</text>
<text x="249.60" y="344.91" transform="rotate(.03 249.60 344.91)" font-size="3.4" fill="#888" >10M</text>
<text x="250.00" y="356.46" transform="rotate(.03 250.00 356.46)" font-size="3.4" fill="#888" >0</text>
<rect x="28.40" y="354.40" width="218.00" height="0.40" fill="#ddd" />
<rect x="30.90" y="234.00" width="21.70" height="120.40" fill="#8aa4cf" />
<rect x="58.70" y="229.70" width="21.30" height="3.90" fill="#4f9896" stroke="#2e8080" stroke-width=".4"/>
<rect x="86.00" y="218.70" width="21.70" height="10.10" fill="#559b99" />
<rect x="195.80" y="216.90" width="22.00" height="1.10" fill="#a3b3d1" />
<rect x="223.60" y="217.10" width="21.60" height="137.30" fill="#142a78" />
<rect x="224.30" y="217.80" width="20.20" height="136.60" fill="#2e4f8a" />
<rect x="21.40" y="376.10" width="239.40" height="34.90" rx="2" fill="#000" opacity=".10" filter="url(#bl)"/>
<rect x="21.70" y="376.00" width="238.80" height="33.90" rx="1.6" fill="#fff" stroke="#d0d0d0" stroke-width=".8"/>
<rect x="22.00" y="375.80" width="238.20" height="15.1" fill="url(#hg)"/>
<rect x="22.00" y="375.80" width="238.20" height=".8" fill="#101c48"/>
<rect x="22.00" y="389.90" width="238.20" height="1" fill="#0a1d74"/>
<text x="41.00" y="386.52" transform="rotate(.03 41.00 386.52)" font-size="8.1" fill="#fff" font-weight="bold" textLength="31.40" lengthAdjust="spacingAndGlyphs" stroke="#fff" stroke-width=".28" filter="url(#ts)">FLAGGED</text>
<svg x="26.8" y="379.05" width="9" height="9" viewBox="0 0 24 24" filter="url(#ts)"><path d="M3 1h2.500v22H3z" fill="#fff"/><path d="M6.500 3c3-2 5.500-1 8 0s5 1.500 8-.5v11c-3 2-5.500 1.500-8 .5s-5-2-8 0z" fill="#fff"/></svg>
<rect x="118.80" y="377.80" width="61.40" height="10.90" rx="1.5" fill="#fff" stroke="#12226a" stroke-width=".7" paint-order="stroke"/>
<rect x="119.20" y="378.20" width="30.40" height="10.10" rx="1.3" fill="#fbd5a6" stroke="#f7c590" stroke-width=".35"/>
<text x="125.15" y="384.59" transform="rotate(.03 125.15 384.59)" font-size="3.5" fill="#e89650" textLength="18.50" lengthAdjust="spacing" >Transaction</text>
<text x="156.50" y="384.59" transform="rotate(.03 156.50 384.59)" font-size="3.5" fill="#555" textLength="17.00" lengthAdjust="spacing" >Settlement</text>
<rect x="186.00" y="377.80" width="60.80" height="10.90" rx="1.5" fill="#fff" stroke="#12226a" stroke-width=".7" paint-order="stroke"/>
<rect x="216.30" y="378.20" width="30.10" height="10.10" rx="1.3" fill="#fbd5a6" stroke="#f7c590" stroke-width=".35"/>
<text x="196.91" y="384.59" transform="rotate(.03 196.91 384.59)" font-size="3.5" fill="#555" >Cash</text>
<text x="222.55" y="384.59" transform="rotate(.03 222.55 384.59)" font-size="3.5" fill="#e89650" textLength="17.50" lengthAdjust="spacing" >Investment</text>
<rect x="251.60" y="380.20" width="2.6" height="6.4" rx=".4" fill="#24438a"/>
<rect x="252.05" y="380.70" width="1.7" height="1.6" fill="#8fa6d6"/>
<rect x="252.05" y="382.60" width="1.7" height="1.6" fill="#8fa6d6"/>
<rect x="252.05" y="384.50" width="1.7" height="1.6" fill="#8fa6d6"/>
<text x="121.75" y="401.99" transform="rotate(.03 121.75 401.99)" font-size="3.5" fill="#555" textLength="38.50" lengthAdjust="spacing" >No flagged transactions.</text>
<rect x="21.40" y="419.00" width="239.40" height="30.80" rx="2" fill="#000" opacity=".10" filter="url(#bl)"/>
<rect x="21.70" y="418.90" width="238.80" height="29.80" rx="1.6" fill="#fff" stroke="#d0d0d0" stroke-width=".8"/>
<rect x="22.00" y="418.70" width="238.20" height="15.1" fill="url(#hg)"/>
<rect x="22.00" y="418.70" width="238.20" height=".8" fill="#101c48"/>
<rect x="22.00" y="432.80" width="238.20" height="1" fill="#0a1d74"/>
<text x="41.00" y="429.42" transform="rotate(.03 41.00 429.42)" font-size="8.1" fill="#fff" font-weight="bold" textLength="37.00" lengthAdjust="spacingAndGlyphs" stroke="#fff" stroke-width=".28" filter="url(#ts)">UPCOMING</text>
<svg x="26.8" y="421.95" width="9" height="9" viewBox="0 0 24 24" filter="url(#ts)"><path d="M3 4l6 1 9 10 3 6H6l3-4-5-6zM2 22h20v2H2z" fill="#fff"/></svg>
<rect x="186.00" y="420.70" width="60.80" height="10.90" rx="1.5" fill="#fff" stroke="#12226a" stroke-width=".7" paint-order="stroke"/>
<rect x="216.30" y="421.10" width="30.10" height="10.10" rx="1.3" fill="#fbd5a6" stroke="#f7c590" stroke-width=".35"/>
<text x="196.91" y="427.49" transform="rotate(.03 196.91 427.49)" font-size="3.5" fill="#555" >Cash</text>
<text x="222.55" y="427.49" transform="rotate(.03 222.55 427.49)" font-size="3.5" fill="#e89650" textLength="17.50" lengthAdjust="spacing" >Investment</text>
<rect x="251.60" y="423.10" width="2.6" height="6.4" rx=".4" fill="#24438a"/>
<rect x="252.05" y="423.60" width="1.7" height="1.6" fill="#8fa6d6"/>
<rect x="252.05" y="425.50" width="1.7" height="1.6" fill="#8fa6d6"/>
<rect x="252.05" y="427.40" width="1.7" height="1.6" fill="#8fa6d6"/>
<rect x="265.50" y="191.20" width="239.30" height="148.40" rx="2" fill="#000" opacity=".10" filter="url(#bl)"/>
<rect x="265.80" y="191.10" width="238.70" height="147.40" rx="1.6" fill="#fff" stroke="#d0d0d0" stroke-width=".8"/>
<rect x="266.10" y="190.90" width="238.10" height="15.1" fill="url(#hg)"/>
<rect x="266.10" y="190.90" width="238.10" height=".8" fill="#101c48"/>
<rect x="266.10" y="205.00" width="238.10" height="1" fill="#0a1d74"/>
<text x="285.10" y="201.62" transform="rotate(.03 285.10 201.62)" font-size="8.1" fill="#fff" font-weight="bold" textLength="51.20" lengthAdjust="spacingAndGlyphs" stroke="#fff" stroke-width=".28" filter="url(#ts)">TOP POSITIONS</text>
<svg x="270.90000000000003" y="194.14999999999998" width="9" height="9" viewBox="0 0 24 24" filter="url(#ts)"><path d="M6 2h12v7c0 4-2.500 6.500-6 6.500S6 13 6 9zM9.500 16h5v3.500h3V23h-11v-3.500h3z" fill="#fff"/><path d="M6 4H2c0 4 1.500 6.500 5 7M18 4h4c0 4-1.500 6.500-5 7" fill="none" stroke="#fff" stroke-width="2"/></svg>
<rect x="422.40" y="192.90" width="37.40" height="11.00" rx="1.5" fill="#fff" stroke="#12226a" stroke-width=".7" paint-order="stroke"/>
<rect x="422.80" y="193.30" width="11.70" height="10.20" rx="1.3" fill="#fbd5a6" stroke="#f7c590" stroke-width=".35"/>
<svg x="426.6" y="196.29999999999998" width="4.2" height="4.2" viewBox="0 0 24 24"><circle cx="12" cy="12" r="10" fill="none" stroke="#e89650" stroke-width="2.500"/><path d="M12 2a10 10 0 0 1 0 20z" fill="#e89650"/></svg>
<svg x="439" y="196.29999999999998" width="4.2" height="4.2" viewBox="0 0 24 24"><circle cx="12" cy="12" r="9.500" fill="none" stroke="#666" stroke-width="2.200"/><path d="M5.500 18.500l13-13" stroke="#666" stroke-width="2"/></svg>
<text x="452.15" y="199.87" transform="rotate(.03 452.15 199.87)" font-size="5.2" fill="#333" font-weight="bold" >$</text>
<rect x="465.50" y="192.90" width="25.00" height="11.00" rx="1.5" fill="#fff" stroke="#12226a" stroke-width=".7" paint-order="stroke"/>
<rect x="478.40" y="193.30" width="11.70" height="10.20" rx="1.3" fill="#fbd5a6" stroke="#f7c590" stroke-width=".35"/>
<svg x="469.70" y="196.40" width="4.2" height="4.0" viewBox="0 0 24 23"><path d="M2 2h20v19H2zM2 8h20M2 14.500h20M8.700 2v19M15.300 2v19" fill="none" stroke="#8f8f8f" stroke-width="2"/></svg>
<svg x="481.80" y="196.00" width="5.0" height="4.8" viewBox="0 0 24 23"><path d="M0 23V18l6-6 4 3.500 6-15.500 5 10 3 4v9z" fill="#e89650"/></svg>
<rect x="495.90" y="195.20" width="2.6" height="6.4" rx=".4" fill="#24438a"/>
<rect x="496.35" y="195.70" width="1.7" height="1.6" fill="#fff"/>
<rect x="496.35" y="197.60" width="1.7" height="1.6" fill="#fff"/>
<rect x="496.35" y="199.50" width="1.7" height="1.6" fill="#fff"/>
<rect x="276.10" y="241.40" width="34.10" height="87.00" fill="#8aa4cf" />
<rect x="318.95" y="259.90" width="34.10" height="68.50" fill="#8aa4cf" />
<rect x="361.80" y="262.40" width="34.10" height="66.00" fill="#8aa4cf" />
<rect x="404.65" y="270.00" width="34.10" height="58.40" fill="#8aa4cf" />
<rect x="447.50" y="276.00" width="34.10" height="52.40" fill="#8aa4cf" />
<circle cx="293.10" cy="231.30" r="7.3" fill="#8e98ab" />
<path d="M293.1 231.3L300.29 232.57A7.3 7.3 0 0 1 299.72 234.39Z" fill="#d3d9e3"/>
<path d="M293.1 231.3L298.69 235.99A7.3 7.3 0 0 1 297.29 237.28Z" fill="#667189"/>
<path d="M293.1 231.3L295.60 238.16A7.3 7.3 0 0 1 293.74 238.57Z" fill="#b4bdcc"/>
<path d="M293.1 231.3L291.83 238.49A7.3 7.3 0 0 1 290.01 237.92Z" fill="#77829a"/>
<path d="M293.1 231.3L288.41 236.89A7.3 7.3 0 0 1 287.12 235.49Z" fill="#d3d9e3"/>
<path d="M293.1 231.3L286.24 233.80A7.3 7.3 0 0 1 285.83 231.94Z" fill="#667189"/>
<path d="M293.1 231.3L285.91 230.03A7.3 7.3 0 0 1 286.48 228.21Z" fill="#b4bdcc"/>
<path d="M293.1 231.3L287.51 226.61A7.3 7.3 0 0 1 288.91 225.32Z" fill="#77829a"/>
<path d="M293.1 231.3L290.60 224.44A7.3 7.3 0 0 1 292.46 224.03Z" fill="#d3d9e3"/>
<path d="M293.1 231.3L294.37 224.11A7.3 7.3 0 0 1 296.19 224.68Z" fill="#667189"/>
<path d="M293.1 231.3L297.79 225.71A7.3 7.3 0 0 1 299.08 227.11Z" fill="#b4bdcc"/>
<path d="M293.1 231.3L299.96 228.80A7.3 7.3 0 0 1 300.37 230.66Z" fill="#77829a"/>
<circle cx="335.90" cy="249.90" r="7.4" fill="#fff" stroke="#e4e8f2" stroke-width=".3"/>
<rect x="331.20" y="248.70" width="1.40" height="1.40" fill="#d43a4a" />
<rect x="333.20" y="248.90" width="6.60" height="0.90" fill="#c9c9cf" />
<rect x="333.40" y="250.60" width="5.50" height="0.50" fill="#dedee3" />
<circle cx="379.00" cy="251.00" r="7" fill="url(#lg5)" stroke="#ddd" stroke-width=".3"/>
<text x="488.00" y="330.79" transform="rotate(.03 488.00 330.79)" font-size="3.5" fill="#777" >0</text>
<rect x="380.2" y="210" width="119.6" height="119" rx="2.500" fill="#000" opacity=".28" filter="url(#bl2)"/>
<rect x="381" y="209.800" width="118" height="117.400" rx="2.400" fill="#fff" stroke="#a6a6a6" stroke-width=".8"/>
<text x="395.50" y="220.49" transform="rotate(.03 395.50 220.49)" font-size="3.5" fill="#333" textLength="17.50" lengthAdjust="spacing" >Asset Class</text>
<rect x="395.30" y="222.80" width="89.90" height="9.90" rx="1.4" fill="#fff" stroke="#dcdfe6" stroke-width="0.6"/>
<text x="397.60" y="228.94" transform="rotate(.03 397.60 228.94)" font-size="3.5" fill="#777" >All asset classes</text>
<path d="M478.00 227.05h2.6l-1.3 1.5z" fill="#222"/>
<text x="395.50" y="241.99" transform="rotate(.03 395.50 241.99)" font-size="3.5" fill="#333" textLength="12.60" lengthAdjust="spacing" >Records</text>
<rect x="395.30" y="244.50" width="89.90" height="9.70" rx="1.4" fill="#fff" stroke="#dcdfe6" stroke-width="0.6"/>
<text x="397.60" y="250.54" transform="rotate(.03 397.60 250.54)" font-size="3.5" fill="#777" >5</text>
<path d="M478.00 248.65h2.6l-1.3 1.5z" fill="#222"/>
<text x="395.50" y="263.69" transform="rotate(.03 395.50 263.69)" font-size="3.5" fill="#333" textLength="20.50" lengthAdjust="spacing" >Performance</text>
<rect x="395.25" y="265.85" width="90.00" height="9.90" rx="1.4" fill="#fff" stroke="#dcdfe6" stroke-width="0.5"/>
<rect x="395.7" y="266.3" width="44" height="9" rx="1.300" fill="#fbd5a6" stroke="#f7c590" stroke-width=".35"/>
<text x="413.25" y="272.09" transform="rotate(.03 413.25 272.09)" font-size="3.5" fill="#e89650" >Value</text>
<text x="453.85" y="272.09" transform="rotate(.03 453.85 272.09)" font-size="3.5" fill="#555" >Percentage</text>
<text x="395.50" y="285.09" transform="rotate(.03 395.50 285.09)" font-size="3.5" fill="#333" textLength="12.40" lengthAdjust="spacing" >Product</text>
<rect x="395.25" y="287.45" width="90.00" height="9.90" rx="1.4" fill="#fff" stroke="#dcdfe6" stroke-width="0.5"/>
<rect x="440.8" y="287.9" width="44" height="9" rx="1.300" fill="#fbd5a6" stroke="#f7c590" stroke-width=".35"/>
<text x="412.93" y="293.69" transform="rotate(.03 412.93 293.69)" font-size="3.5" fill="#555" >Name</text>
<text x="457.35" y="293.69" transform="rotate(.03 457.35 293.69)" font-size="3.5" fill="#e89650" >Picture</text>
<text x="395.50" y="306.59" transform="rotate(.03 395.50 306.59)" font-size="3.5" fill="#333" textLength="7.00" lengthAdjust="spacing" >Bars</text>
<rect x="395.25" y="309.15" width="90.00" height="9.90" rx="1.4" fill="#fff" stroke="#dcdfe6" stroke-width="0.5"/>
<rect x="440.8" y="309.59999999999997" width="44" height="9" rx="1.300" fill="#fbd5a6" stroke="#f7c590" stroke-width=".35"/>
<text x="409.72" y="315.39" transform="rotate(.03 409.72 315.39)" font-size="3.5" fill="#555" >Horizontal</text>
<text x="457.06" y="315.39" transform="rotate(.03 457.06 315.39)" font-size="3.5" fill="#e89650" >Vertical</text>
<rect x="265.50" y="347.00" width="239.30" height="100.80" rx="2" fill="#000" opacity=".10" filter="url(#bl)"/>
<rect x="265.80" y="346.90" width="238.70" height="99.80" rx="1.6" fill="#fff" stroke="#d0d0d0" stroke-width=".8"/>
<rect x="266.10" y="346.70" width="238.10" height="15.1" fill="url(#hg)"/>
<rect x="266.10" y="346.70" width="238.10" height=".8" fill="#101c48"/>
<rect x="266.10" y="360.80" width="238.10" height="1" fill="#0a1d74"/>
<text x="285.10" y="357.42" transform="rotate(.03 285.10 357.42)" font-size="8.1" fill="#fff" font-weight="bold" textLength="39.90" lengthAdjust="spacingAndGlyphs" stroke="#fff" stroke-width=".28" filter="url(#ts)">NET WORTH</text>
<svg x="270.90000000000003" y="349.95" width="9" height="9" viewBox="0 0 24 24" filter="url(#ts)"><path d="M1 6h22v15H1zM8 6V3h8v3h-2V4.800h-4V6z" fill="#fff"/></svg>
<rect x="465.40" y="348.90" width="25.10" height="10.80" rx="1.5" fill="#fff" stroke="#12226a" stroke-width=".7" paint-order="stroke"/>
<rect x="478.40" y="349.30" width="11.70" height="10.00" rx="1.3" fill="#fbd5a6" stroke="#f7c590" stroke-width=".35"/>
<svg x="469.60" y="352.30" width="4.2" height="4.0" viewBox="0 0 24 23"><path d="M2 2h20v19H2zM2 8h20M2 14.500h20M8.700 2v19M15.300 2v19" fill="none" stroke="#8f8f8f" stroke-width="2"/></svg>
<svg x="481.70" y="351.90" width="5.0" height="4.8" viewBox="0 0 24 23"><path d="M0 23V18l6-6 4 3.500 6-15.500 5 10 3 4v9z" fill="#e89650"/></svg>
<rect x="495.60" y="351.10" width="2.6" height="6.4" rx=".4" fill="#24438a"/>
<rect x="496.05" y="351.60" width="1.7" height="1.6" fill="#fff"/>
<rect x="496.05" y="353.50" width="1.7" height="1.6" fill="#fff"/>
<rect x="496.05" y="355.40" width="1.7" height="1.6" fill="#fff"/>
<text x="488.00" y="374.66" transform="rotate(.03 488.00 374.66)" font-size="3.4" fill="#888" >125M</text>
<text x="488.00" y="388.01" transform="rotate(.03 488.00 388.01)" font-size="3.4" fill="#888" >120M</text>
<text x="488.00" y="401.36" transform="rotate(.03 488.00 401.36)" font-size="3.4" fill="#888" >115M</text>
<text x="488.00" y="414.71" transform="rotate(.03 488.00 414.71)" font-size="3.4" fill="#888" >110M</text>
<text x="488.00" y="428.06" transform="rotate(.03 488.00 428.06)" font-size="3.4" fill="#888" >105M</text>
<g><path d="M471.100 430V395.300l.5-.1.300-1.600.8-.4.400-1 .9-.2.500-.8 1-.2.600.3.700-.7 1-.1.500-.5.900.1.600-.5 1 .1.500-.6.800.1.600.3.500-.9.500-.3.400-1.500V430z" fill="url(#nw)"/></g>
</svg>
</body></html>
